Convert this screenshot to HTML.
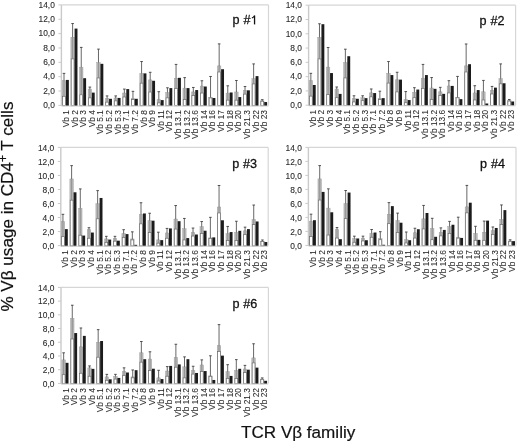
<!DOCTYPE html>
<html><head><meta charset="utf-8"><style>
html,body{margin:0;padding:0;background:#fff;}
body{width:520px;height:442px;overflow:hidden;}
svg{display:block;will-change:transform;}
text{font-family:"Liberation Sans",sans-serif;fill:#2a2a2a;}
.t{font-size:8.4px;stroke:#2a2a2a;stroke-width:0.1px;}
.c{font-size:8.4px;stroke:#2a2a2a;stroke-width:0.05px;}
.p{font-size:12.6px;letter-spacing:0px;word-spacing:0.4px;fill:#111;stroke:#111;stroke-width:0.28px;}
.ax{font-size:17.1px;fill:#111;stroke:#111;stroke-width:0.2px;}
</style></head><body>
<svg width="520" height="442" viewBox="0 0 520 442">
<rect width="520" height="442" fill="#fff"/>
<g><line x1="61.4" y1="4.9" x2="268.5" y2="4.9" stroke="#d6d6d6" stroke-width="1.2"/><line x1="268.5" y1="4.9" x2="268.5" y2="105.4" stroke="#d6d6d6" stroke-width="1.2"/><line x1="61.4" y1="4.9" x2="61.4" y2="106" stroke="#cacaca" stroke-width="1.4"/><line x1="58.4" y1="105.4" x2="61.4" y2="105.4" stroke="#cacaca" stroke-width="1"/><text x="54.8" y="108.2" text-anchor="end" class="t">0,0</text><line x1="58.4" y1="91.04" x2="61.4" y2="91.04" stroke="#cacaca" stroke-width="1"/><text x="54.8" y="93.84" text-anchor="end" class="t">2,0</text><line x1="58.4" y1="76.69" x2="61.4" y2="76.69" stroke="#cacaca" stroke-width="1"/><text x="54.8" y="79.49" text-anchor="end" class="t">4,0</text><line x1="58.4" y1="62.33" x2="61.4" y2="62.33" stroke="#cacaca" stroke-width="1"/><text x="54.8" y="65.13" text-anchor="end" class="t">6,0</text><line x1="58.4" y1="47.97" x2="61.4" y2="47.97" stroke="#cacaca" stroke-width="1"/><text x="54.8" y="50.77" text-anchor="end" class="t">8,0</text><line x1="58.4" y1="33.61" x2="61.4" y2="33.61" stroke="#cacaca" stroke-width="1"/><text x="54.8" y="36.41" text-anchor="end" class="t">10,0</text><line x1="58.4" y1="19.26" x2="61.4" y2="19.26" stroke="#cacaca" stroke-width="1"/><text x="54.8" y="22.06" text-anchor="end" class="t">12,0</text><line x1="58.4" y1="4.9" x2="61.4" y2="4.9" stroke="#cacaca" stroke-width="1"/><text x="54.8" y="7.7" text-anchor="end" class="t">14,0</text><rect x="62.25" y="80.78" width="3.5" height="25.22" fill="#b8b8b8" stroke="#9a9a9a" stroke-width="0.4"/><line x1="64" y1="80.78" x2="64" y2="95.92" stroke="#8a8a8a" stroke-width="0.8"/><line x1="64" y1="73.38" x2="64" y2="80.78" stroke="#404040" stroke-width="0.8"/><line x1="62.7" y1="73.38" x2="65.3" y2="73.38" stroke="#404040" stroke-width="0.9"/><rect x="62.6" y="96.27" width="2.8" height="9.38" fill="#fff" stroke="#6a6a6a" stroke-width="0.7"/><rect x="65.95" y="79.92" width="2.9" height="26.08" fill="#1c1c1c"/><text transform="translate(68.95,110) rotate(-90)" text-anchor="end" class="c">Vb 1</text><rect x="70.87" y="37.2" width="3.5" height="68.8" fill="#b8b8b8" stroke="#9a9a9a" stroke-width="0.4"/><line x1="72.62" y1="37.2" x2="72.62" y2="58.52" stroke="#8a8a8a" stroke-width="0.8"/><line x1="72.62" y1="23.56" x2="72.62" y2="37.2" stroke="#404040" stroke-width="0.8"/><line x1="71.32" y1="23.56" x2="73.92" y2="23.56" stroke="#404040" stroke-width="0.9"/><rect x="71.22" y="58.87" width="2.8" height="46.78" fill="#fff" stroke="#6a6a6a" stroke-width="0.7"/><rect x="74.57" y="28.59" width="2.9" height="77.41" fill="#1c1c1c"/><text transform="translate(77.57,110) rotate(-90)" text-anchor="end" class="c">Vb 2</text><rect x="79.49" y="67.14" width="3.5" height="38.86" fill="#b8b8b8" stroke="#9a9a9a" stroke-width="0.4"/><line x1="81.24" y1="67.14" x2="81.24" y2="94.42" stroke="#8a8a8a" stroke-width="0.8"/><line x1="81.24" y1="47.4" x2="81.24" y2="67.14" stroke="#404040" stroke-width="0.8"/><line x1="79.94" y1="47.4" x2="82.54" y2="47.4" stroke="#404040" stroke-width="0.9"/><rect x="79.84" y="94.77" width="2.8" height="10.88" fill="#fff" stroke="#6a6a6a" stroke-width="0.7"/><rect x="83.19" y="78.19" width="2.9" height="27.81" fill="#1c1c1c"/><text transform="translate(86.19,110) rotate(-90)" text-anchor="end" class="c">Vb 3</text><rect x="88.11" y="89.1" width="3.5" height="16.9" fill="#b8b8b8" stroke="#9a9a9a" stroke-width="0.4"/><line x1="89.86" y1="89.1" x2="89.86" y2="97.5" stroke="#8a8a8a" stroke-width="0.8"/><line x1="89.86" y1="87.09" x2="89.86" y2="89.1" stroke="#404040" stroke-width="0.8"/><line x1="88.56" y1="87.09" x2="91.16" y2="87.09" stroke="#404040" stroke-width="0.9"/><rect x="88.46" y="97.85" width="2.8" height="7.8" fill="#fff" stroke="#6a6a6a" stroke-width="0.7"/><rect x="91.81" y="92.62" width="2.9" height="13.38" fill="#1c1c1c"/><text transform="translate(94.81,110) rotate(-90)" text-anchor="end" class="c">Vb 4</text><rect x="96.73" y="62.54" width="3.5" height="43.46" fill="#b8b8b8" stroke="#9a9a9a" stroke-width="0.4"/><line x1="98.48" y1="62.54" x2="98.48" y2="77.62" stroke="#8a8a8a" stroke-width="0.8"/><line x1="98.48" y1="49.12" x2="98.48" y2="62.54" stroke="#404040" stroke-width="0.8"/><line x1="97.18" y1="49.12" x2="99.78" y2="49.12" stroke="#404040" stroke-width="0.9"/><rect x="97.08" y="77.97" width="2.8" height="27.68" fill="#fff" stroke="#6a6a6a" stroke-width="0.7"/><rect x="100.43" y="63.84" width="2.9" height="42.16" fill="#1c1c1c"/><text transform="translate(103.43,110) rotate(-90)" text-anchor="end" class="c">Vb 5.1</text><rect x="105.35" y="98.58" width="3.5" height="7.42" fill="#b8b8b8" stroke="#9a9a9a" stroke-width="0.4"/><line x1="107.1" y1="98.58" x2="107.1" y2="101.81" stroke="#8a8a8a" stroke-width="0.8"/><line x1="107.1" y1="95.92" x2="107.1" y2="98.58" stroke="#404040" stroke-width="0.8"/><line x1="105.8" y1="95.92" x2="108.4" y2="95.92" stroke="#404040" stroke-width="0.9"/><rect x="105.7" y="102.16" width="2.8" height="3.49" fill="#fff" stroke="#6a6a6a" stroke-width="0.7"/><rect x="109.05" y="98.8" width="2.9" height="7.2" fill="#1c1c1c"/><text transform="translate(112.05,110) rotate(-90)" text-anchor="end" class="c">Vb 5.2</text><rect x="113.97" y="97.93" width="3.5" height="8.07" fill="#b8b8b8" stroke="#9a9a9a" stroke-width="0.4"/><line x1="115.72" y1="97.93" x2="115.72" y2="100.52" stroke="#8a8a8a" stroke-width="0.8"/><line x1="115.72" y1="95.92" x2="115.72" y2="97.93" stroke="#404040" stroke-width="0.8"/><line x1="114.42" y1="95.92" x2="117.02" y2="95.92" stroke="#404040" stroke-width="0.9"/><rect x="114.32" y="100.87" width="2.8" height="4.78" fill="#fff" stroke="#6a6a6a" stroke-width="0.7"/><rect x="117.67" y="97.93" width="2.9" height="8.07" fill="#1c1c1c"/><text transform="translate(120.67,110) rotate(-90)" text-anchor="end" class="c">Vb 5.3</text><rect x="122.59" y="93.05" width="3.5" height="12.95" fill="#b8b8b8" stroke="#9a9a9a" stroke-width="0.4"/><line x1="124.34" y1="93.05" x2="124.34" y2="96.64" stroke="#8a8a8a" stroke-width="0.8"/><line x1="124.34" y1="89.1" x2="124.34" y2="93.05" stroke="#404040" stroke-width="0.8"/><line x1="123.04" y1="89.1" x2="125.64" y2="89.1" stroke="#404040" stroke-width="0.9"/><rect x="122.94" y="96.99" width="2.8" height="8.66" fill="#fff" stroke="#6a6a6a" stroke-width="0.7"/><rect x="126.29" y="89.1" width="2.9" height="16.9" fill="#1c1c1c"/><text transform="translate(129.29,110) rotate(-90)" text-anchor="end" class="c">Vb 7.1</text><rect x="131.21" y="98.58" width="3.5" height="7.42" fill="#b8b8b8" stroke="#9a9a9a" stroke-width="0.4"/><line x1="132.96" y1="98.58" x2="132.96" y2="99.23" stroke="#8a8a8a" stroke-width="0.8"/><line x1="132.96" y1="91.33" x2="132.96" y2="98.58" stroke="#404040" stroke-width="0.8"/><line x1="131.66" y1="91.33" x2="134.26" y2="91.33" stroke="#404040" stroke-width="0.9"/><rect x="131.56" y="99.58" width="2.8" height="6.07" fill="#fff" stroke="#6a6a6a" stroke-width="0.7"/><rect x="134.91" y="98.8" width="2.9" height="7.2" fill="#1c1c1c"/><text transform="translate(137.91,110) rotate(-90)" text-anchor="end" class="c">Vb 7.2</text><rect x="139.83" y="73.38" width="3.5" height="32.62" fill="#b8b8b8" stroke="#9a9a9a" stroke-width="0.4"/><line x1="141.58" y1="73.38" x2="141.58" y2="82.79" stroke="#8a8a8a" stroke-width="0.8"/><line x1="141.58" y1="61.54" x2="141.58" y2="73.38" stroke="#404040" stroke-width="0.8"/><line x1="140.28" y1="61.54" x2="142.88" y2="61.54" stroke="#404040" stroke-width="0.9"/><rect x="140.18" y="83.14" width="2.8" height="22.51" fill="#fff" stroke="#6a6a6a" stroke-width="0.7"/><rect x="143.53" y="73.38" width="2.9" height="32.62" fill="#1c1c1c"/><text transform="translate(146.53,110) rotate(-90)" text-anchor="end" class="c">Vb 8</text><rect x="148.45" y="79.92" width="3.5" height="26.08" fill="#b8b8b8" stroke="#9a9a9a" stroke-width="0.4"/><line x1="150.2" y1="79.92" x2="150.2" y2="91.69" stroke="#8a8a8a" stroke-width="0.8"/><line x1="150.2" y1="72.31" x2="150.2" y2="79.92" stroke="#404040" stroke-width="0.8"/><line x1="148.9" y1="72.31" x2="151.5" y2="72.31" stroke="#404040" stroke-width="0.9"/><rect x="148.8" y="92.04" width="2.8" height="13.61" fill="#fff" stroke="#6a6a6a" stroke-width="0.7"/><rect x="152.15" y="80.78" width="2.9" height="25.22" fill="#1c1c1c"/><text transform="translate(155.15,110) rotate(-90)" text-anchor="end" class="c">Vb 9</text><rect x="157.07" y="99.59" width="3.5" height="6.41" fill="#b8b8b8" stroke="#9a9a9a" stroke-width="0.4"/><line x1="158.82" y1="99.59" x2="158.82" y2="102.53" stroke="#8a8a8a" stroke-width="0.8"/><line x1="158.82" y1="91.69" x2="158.82" y2="99.59" stroke="#404040" stroke-width="0.8"/><line x1="157.52" y1="91.69" x2="160.12" y2="91.69" stroke="#404040" stroke-width="0.9"/><rect x="157.42" y="102.88" width="2.8" height="2.77" fill="#fff" stroke="#6a6a6a" stroke-width="0.7"/><rect x="160.77" y="100.09" width="2.9" height="5.91" fill="#1c1c1c"/><text transform="translate(163.77,110) rotate(-90)" text-anchor="end" class="c">Vb 11</text><rect x="165.69" y="92.48" width="3.5" height="13.52" fill="#b8b8b8" stroke="#9a9a9a" stroke-width="0.4"/><line x1="167.44" y1="92.48" x2="167.44" y2="97.5" stroke="#8a8a8a" stroke-width="0.8"/><line x1="167.44" y1="87.81" x2="167.44" y2="92.48" stroke="#404040" stroke-width="0.8"/><line x1="166.14" y1="87.81" x2="168.74" y2="87.81" stroke="#404040" stroke-width="0.9"/><rect x="166.04" y="97.85" width="2.8" height="7.8" fill="#fff" stroke="#6a6a6a" stroke-width="0.7"/><rect x="169.39" y="88.1" width="2.9" height="17.9" fill="#1c1c1c"/><text transform="translate(172.39,110) rotate(-90)" text-anchor="end" class="c">Vb 12</text><rect x="174.31" y="78.19" width="3.5" height="27.81" fill="#b8b8b8" stroke="#9a9a9a" stroke-width="0.4"/><line x1="176.06" y1="78.19" x2="176.06" y2="88.1" stroke="#8a8a8a" stroke-width="0.8"/><line x1="176.06" y1="64.41" x2="176.06" y2="78.19" stroke="#404040" stroke-width="0.8"/><line x1="174.76" y1="64.41" x2="177.36" y2="64.41" stroke="#404040" stroke-width="0.9"/><rect x="174.66" y="88.45" width="2.8" height="17.2" fill="#fff" stroke="#6a6a6a" stroke-width="0.7"/><rect x="178.01" y="77.83" width="2.9" height="28.17" fill="#1c1c1c"/><text transform="translate(181.01,110) rotate(-90)" text-anchor="end" class="c">Vb 13.1</text><rect x="182.93" y="88.1" width="3.5" height="17.9" fill="#b8b8b8" stroke="#9a9a9a" stroke-width="0.4"/><line x1="184.68" y1="88.1" x2="184.68" y2="99.23" stroke="#8a8a8a" stroke-width="0.8"/><line x1="184.68" y1="77.62" x2="184.68" y2="88.1" stroke="#404040" stroke-width="0.8"/><line x1="183.38" y1="77.62" x2="185.98" y2="77.62" stroke="#404040" stroke-width="0.9"/><rect x="183.28" y="99.58" width="2.8" height="6.07" fill="#fff" stroke="#6a6a6a" stroke-width="0.7"/><rect x="186.63" y="88.1" width="2.9" height="17.9" fill="#1c1c1c"/><text transform="translate(189.63,110) rotate(-90)" text-anchor="end" class="c">Vb 13.2</text><rect x="191.55" y="91.98" width="3.5" height="14.02" fill="#b8b8b8" stroke="#9a9a9a" stroke-width="0.4"/><line x1="193.3" y1="91.98" x2="193.3" y2="95.28" stroke="#8a8a8a" stroke-width="0.8"/><line x1="193.3" y1="87.45" x2="193.3" y2="91.98" stroke="#404040" stroke-width="0.8"/><line x1="192" y1="87.45" x2="194.6" y2="87.45" stroke="#404040" stroke-width="0.9"/><rect x="191.9" y="95.63" width="2.8" height="10.02" fill="#fff" stroke="#6a6a6a" stroke-width="0.7"/><rect x="195.25" y="90.04" width="2.9" height="15.96" fill="#1c1c1c"/><text transform="translate(198.25,110) rotate(-90)" text-anchor="end" class="c">Vb 13.6</text><rect x="200.17" y="86.09" width="3.5" height="19.91" fill="#b8b8b8" stroke="#9a9a9a" stroke-width="0.4"/><line x1="201.92" y1="86.09" x2="201.92" y2="92.69" stroke="#8a8a8a" stroke-width="0.8"/><line x1="201.92" y1="80.78" x2="201.92" y2="86.09" stroke="#404040" stroke-width="0.8"/><line x1="200.62" y1="80.78" x2="203.22" y2="80.78" stroke="#404040" stroke-width="0.9"/><rect x="200.52" y="93.04" width="2.8" height="12.61" fill="#fff" stroke="#6a6a6a" stroke-width="0.7"/><rect x="203.87" y="86.52" width="2.9" height="19.48" fill="#1c1c1c"/><text transform="translate(206.87,110) rotate(-90)" text-anchor="end" class="c">Vb 14</text><rect x="208.79" y="97.58" width="3.5" height="8.42" fill="#b8b8b8" stroke="#9a9a9a" stroke-width="0.4"/><line x1="210.54" y1="97.58" x2="210.54" y2="97.58" stroke="#8a8a8a" stroke-width="0.8"/><line x1="210.54" y1="76.47" x2="210.54" y2="97.58" stroke="#404040" stroke-width="0.8"/><line x1="209.24" y1="76.47" x2="211.84" y2="76.47" stroke="#404040" stroke-width="0.9"/><rect x="209.14" y="97.93" width="2.8" height="7.72" fill="#fff" stroke="#6a6a6a" stroke-width="0.7"/><rect x="212.49" y="98.01" width="2.9" height="7.99" fill="#1c1c1c"/><text transform="translate(215.49,110) rotate(-90)" text-anchor="end" class="c">Vb 16</text><rect x="217.41" y="65.92" width="3.5" height="40.08" fill="#b8b8b8" stroke="#9a9a9a" stroke-width="0.4"/><line x1="219.16" y1="65.92" x2="219.16" y2="71.66" stroke="#8a8a8a" stroke-width="0.8"/><line x1="219.16" y1="43.88" x2="219.16" y2="65.92" stroke="#404040" stroke-width="0.8"/><line x1="217.86" y1="43.88" x2="220.46" y2="43.88" stroke="#404040" stroke-width="0.9"/><rect x="217.76" y="72.01" width="2.8" height="33.64" fill="#fff" stroke="#6a6a6a" stroke-width="0.7"/><rect x="221.11" y="69.22" width="2.9" height="36.78" fill="#1c1c1c"/><text transform="translate(224.11,110) rotate(-90)" text-anchor="end" class="c">Vb 17</text><rect x="226.03" y="93.12" width="3.5" height="12.88" fill="#b8b8b8" stroke="#9a9a9a" stroke-width="0.4"/><line x1="227.78" y1="93.12" x2="227.78" y2="99.8" stroke="#8a8a8a" stroke-width="0.8"/><line x1="227.78" y1="85.8" x2="227.78" y2="93.12" stroke="#404040" stroke-width="0.8"/><line x1="226.48" y1="85.8" x2="229.08" y2="85.8" stroke="#404040" stroke-width="0.9"/><rect x="226.38" y="100.15" width="2.8" height="5.5" fill="#fff" stroke="#6a6a6a" stroke-width="0.7"/><rect x="229.73" y="92.48" width="2.9" height="13.52" fill="#1c1c1c"/><text transform="translate(232.73,110) rotate(-90)" text-anchor="end" class="c">Vb 18</text><rect x="234.65" y="91.98" width="3.5" height="14.02" fill="#b8b8b8" stroke="#9a9a9a" stroke-width="0.4"/><line x1="236.4" y1="91.98" x2="236.4" y2="99.8" stroke="#8a8a8a" stroke-width="0.8"/><line x1="236.4" y1="80.49" x2="236.4" y2="91.98" stroke="#404040" stroke-width="0.8"/><line x1="235.1" y1="80.49" x2="237.7" y2="80.49" stroke="#404040" stroke-width="0.9"/><rect x="235" y="100.15" width="2.8" height="5.5" fill="#fff" stroke="#6a6a6a" stroke-width="0.7"/><rect x="238.35" y="97.07" width="2.9" height="8.93" fill="#1c1c1c"/><text transform="translate(241.35,110) rotate(-90)" text-anchor="end" class="c">Vb 20</text><rect x="243.27" y="90.33" width="3.5" height="15.68" fill="#b8b8b8" stroke="#9a9a9a" stroke-width="0.4"/><line x1="245.02" y1="90.33" x2="245.02" y2="93.77" stroke="#8a8a8a" stroke-width="0.8"/><line x1="245.02" y1="86.52" x2="245.02" y2="90.33" stroke="#404040" stroke-width="0.8"/><line x1="243.72" y1="86.52" x2="246.32" y2="86.52" stroke="#404040" stroke-width="0.9"/><rect x="243.62" y="94.12" width="2.8" height="11.53" fill="#fff" stroke="#6a6a6a" stroke-width="0.7"/><rect x="246.97" y="90.33" width="2.9" height="15.68" fill="#1c1c1c"/><text transform="translate(249.97,110) rotate(-90)" text-anchor="end" class="c">Vb 21.3</text><rect x="251.89" y="78.7" width="3.5" height="27.3" fill="#b8b8b8" stroke="#9a9a9a" stroke-width="0.4"/><line x1="253.64" y1="78.7" x2="253.64" y2="83.58" stroke="#8a8a8a" stroke-width="0.8"/><line x1="253.64" y1="63.91" x2="253.64" y2="78.7" stroke="#404040" stroke-width="0.8"/><line x1="252.34" y1="63.91" x2="254.94" y2="63.91" stroke="#404040" stroke-width="0.9"/><rect x="252.24" y="83.93" width="2.8" height="21.72" fill="#fff" stroke="#6a6a6a" stroke-width="0.7"/><rect x="255.59" y="76.11" width="2.9" height="29.89" fill="#1c1c1c"/><text transform="translate(258.59,110) rotate(-90)" text-anchor="end" class="c">Vb 22</text><rect x="260.51" y="100.88" width="3.5" height="5.12" fill="#b8b8b8" stroke="#9a9a9a" stroke-width="0.4"/><line x1="262.26" y1="100.88" x2="262.26" y2="100.88" stroke="#8a8a8a" stroke-width="0.8"/><line x1="262.26" y1="99.66" x2="262.26" y2="100.88" stroke="#404040" stroke-width="0.8"/><line x1="260.96" y1="99.66" x2="263.56" y2="99.66" stroke="#404040" stroke-width="0.9"/><rect x="260.86" y="101.23" width="2.8" height="4.42" fill="#fff" stroke="#6a6a6a" stroke-width="0.7"/><rect x="264.21" y="102.03" width="2.9" height="3.97" fill="#1c1c1c"/><text transform="translate(267.21,110) rotate(-90)" text-anchor="end" class="c">Vb 23</text><line x1="61.4" y1="106" x2="268.5" y2="106" stroke="#d0d0d0" stroke-width="1"/><text x="232.5" y="24.4" class="p">p #</text><path d="M253.9 15.5 H255.2 V24.4 H253.9 Z" fill="#111"/><path d="M254.5 15.7 Q253.7 17.3 251.9 18" stroke="#111" stroke-width="1.1" fill="none"/></g><g><line x1="308.6" y1="5.2" x2="515.6" y2="5.2" stroke="#d6d6d6" stroke-width="1.2"/><line x1="515.6" y1="5.2" x2="515.6" y2="105.2" stroke="#d6d6d6" stroke-width="1.2"/><line x1="308.6" y1="5.2" x2="308.6" y2="105.8" stroke="#cacaca" stroke-width="1.4"/><line x1="305.6" y1="105.2" x2="308.6" y2="105.2" stroke="#cacaca" stroke-width="1"/><text x="302" y="108" text-anchor="end" class="t">0,0</text><line x1="305.6" y1="90.91" x2="308.6" y2="90.91" stroke="#cacaca" stroke-width="1"/><text x="302" y="93.71" text-anchor="end" class="t">2,0</text><line x1="305.6" y1="76.63" x2="308.6" y2="76.63" stroke="#cacaca" stroke-width="1"/><text x="302" y="79.43" text-anchor="end" class="t">4,0</text><line x1="305.6" y1="62.34" x2="308.6" y2="62.34" stroke="#cacaca" stroke-width="1"/><text x="302" y="65.14" text-anchor="end" class="t">6,0</text><line x1="305.6" y1="48.06" x2="308.6" y2="48.06" stroke="#cacaca" stroke-width="1"/><text x="302" y="50.86" text-anchor="end" class="t">8,0</text><line x1="305.6" y1="33.77" x2="308.6" y2="33.77" stroke="#cacaca" stroke-width="1"/><text x="302" y="36.57" text-anchor="end" class="t">10,0</text><line x1="305.6" y1="19.49" x2="308.6" y2="19.49" stroke="#cacaca" stroke-width="1"/><text x="302" y="22.29" text-anchor="end" class="t">12,0</text><line x1="305.6" y1="5.2" x2="308.6" y2="5.2" stroke="#cacaca" stroke-width="1"/><text x="302" y="8" text-anchor="end" class="t">14,0</text><rect x="309.1" y="80.7" width="3.5" height="25.1" fill="#b8b8b8" stroke="#9a9a9a" stroke-width="0.4"/><line x1="310.85" y1="80.7" x2="310.85" y2="95.77" stroke="#8a8a8a" stroke-width="0.8"/><line x1="310.85" y1="73.34" x2="310.85" y2="80.7" stroke="#404040" stroke-width="0.8"/><line x1="309.55" y1="73.34" x2="312.15" y2="73.34" stroke="#404040" stroke-width="0.9"/><rect x="309.45" y="96.12" width="2.8" height="9.33" fill="#fff" stroke="#6a6a6a" stroke-width="0.7"/><rect x="312.8" y="84.99" width="2.9" height="20.81" fill="#1c1c1c"/><text transform="translate(315.8,109.8) rotate(-90)" text-anchor="end" class="c">Vb 1</text><rect x="317.73" y="37.34" width="3.5" height="68.46" fill="#b8b8b8" stroke="#9a9a9a" stroke-width="0.4"/><line x1="319.48" y1="37.34" x2="319.48" y2="58.56" stroke="#8a8a8a" stroke-width="0.8"/><line x1="319.48" y1="23.77" x2="319.48" y2="37.34" stroke="#404040" stroke-width="0.8"/><line x1="318.18" y1="23.77" x2="320.78" y2="23.77" stroke="#404040" stroke-width="0.9"/><rect x="318.08" y="58.91" width="2.8" height="46.54" fill="#fff" stroke="#6a6a6a" stroke-width="0.7"/><rect x="321.43" y="24.2" width="2.9" height="81.6" fill="#1c1c1c"/><text transform="translate(324.43,109.8) rotate(-90)" text-anchor="end" class="c">Vb 2</text><rect x="326.36" y="67.13" width="3.5" height="38.67" fill="#b8b8b8" stroke="#9a9a9a" stroke-width="0.4"/><line x1="328.11" y1="67.13" x2="328.11" y2="94.27" stroke="#8a8a8a" stroke-width="0.8"/><line x1="328.11" y1="47.49" x2="328.11" y2="67.13" stroke="#404040" stroke-width="0.8"/><line x1="326.81" y1="47.49" x2="329.41" y2="47.49" stroke="#404040" stroke-width="0.9"/><rect x="326.71" y="94.62" width="2.8" height="10.83" fill="#fff" stroke="#6a6a6a" stroke-width="0.7"/><rect x="330.06" y="73.06" width="2.9" height="32.74" fill="#1c1c1c"/><text transform="translate(333.06,109.8) rotate(-90)" text-anchor="end" class="c">Vb 3</text><rect x="334.98" y="88.99" width="3.5" height="16.81" fill="#b8b8b8" stroke="#9a9a9a" stroke-width="0.4"/><line x1="336.73" y1="88.99" x2="336.73" y2="97.34" stroke="#8a8a8a" stroke-width="0.8"/><line x1="336.73" y1="86.99" x2="336.73" y2="88.99" stroke="#404040" stroke-width="0.8"/><line x1="335.43" y1="86.99" x2="338.03" y2="86.99" stroke="#404040" stroke-width="0.9"/><rect x="335.33" y="97.69" width="2.8" height="7.76" fill="#fff" stroke="#6a6a6a" stroke-width="0.7"/><rect x="338.68" y="93.91" width="2.9" height="11.89" fill="#1c1c1c"/><text transform="translate(341.68,109.8) rotate(-90)" text-anchor="end" class="c">Vb 4</text><rect x="343.61" y="62.56" width="3.5" height="43.24" fill="#b8b8b8" stroke="#9a9a9a" stroke-width="0.4"/><line x1="345.36" y1="62.56" x2="345.36" y2="77.56" stroke="#8a8a8a" stroke-width="0.8"/><line x1="345.36" y1="49.2" x2="345.36" y2="62.56" stroke="#404040" stroke-width="0.8"/><line x1="344.06" y1="49.2" x2="346.66" y2="49.2" stroke="#404040" stroke-width="0.9"/><rect x="343.96" y="77.91" width="2.8" height="27.54" fill="#fff" stroke="#6a6a6a" stroke-width="0.7"/><rect x="347.31" y="56.2" width="2.9" height="49.6" fill="#1c1c1c"/><text transform="translate(350.31,109.8) rotate(-90)" text-anchor="end" class="c">Vb 5.1</text><rect x="352.24" y="98.41" width="3.5" height="7.39" fill="#b8b8b8" stroke="#9a9a9a" stroke-width="0.4"/><line x1="353.99" y1="98.41" x2="353.99" y2="101.63" stroke="#8a8a8a" stroke-width="0.8"/><line x1="353.99" y1="95.77" x2="353.99" y2="98.41" stroke="#404040" stroke-width="0.8"/><line x1="352.69" y1="95.77" x2="355.29" y2="95.77" stroke="#404040" stroke-width="0.9"/><rect x="352.59" y="101.98" width="2.8" height="3.47" fill="#fff" stroke="#6a6a6a" stroke-width="0.7"/><rect x="355.94" y="98.77" width="2.9" height="7.03" fill="#1c1c1c"/><text transform="translate(358.94,109.8) rotate(-90)" text-anchor="end" class="c">Vb 5.2</text><rect x="360.87" y="97.77" width="3.5" height="8.03" fill="#b8b8b8" stroke="#9a9a9a" stroke-width="0.4"/><line x1="362.62" y1="97.77" x2="362.62" y2="100.34" stroke="#8a8a8a" stroke-width="0.8"/><line x1="362.62" y1="95.77" x2="362.62" y2="97.77" stroke="#404040" stroke-width="0.8"/><line x1="361.32" y1="95.77" x2="363.92" y2="95.77" stroke="#404040" stroke-width="0.9"/><rect x="361.22" y="100.69" width="2.8" height="4.76" fill="#fff" stroke="#6a6a6a" stroke-width="0.7"/><rect x="364.57" y="98.13" width="2.9" height="7.67" fill="#1c1c1c"/><text transform="translate(367.57,109.8) rotate(-90)" text-anchor="end" class="c">Vb 5.3</text><rect x="369.5" y="92.91" width="3.5" height="12.89" fill="#b8b8b8" stroke="#9a9a9a" stroke-width="0.4"/><line x1="371.25" y1="92.91" x2="371.25" y2="96.49" stroke="#8a8a8a" stroke-width="0.8"/><line x1="371.25" y1="88.99" x2="371.25" y2="92.91" stroke="#404040" stroke-width="0.8"/><line x1="369.95" y1="88.99" x2="372.55" y2="88.99" stroke="#404040" stroke-width="0.9"/><rect x="369.85" y="96.84" width="2.8" height="8.61" fill="#fff" stroke="#6a6a6a" stroke-width="0.7"/><rect x="373.2" y="93.06" width="2.9" height="12.74" fill="#1c1c1c"/><text transform="translate(376.2,109.8) rotate(-90)" text-anchor="end" class="c">Vb 7.1</text><rect x="378.12" y="98.41" width="3.5" height="7.39" fill="#b8b8b8" stroke="#9a9a9a" stroke-width="0.4"/><line x1="379.87" y1="98.41" x2="379.87" y2="99.06" stroke="#8a8a8a" stroke-width="0.8"/><line x1="379.87" y1="91.2" x2="379.87" y2="98.41" stroke="#404040" stroke-width="0.8"/><line x1="378.57" y1="91.2" x2="381.17" y2="91.2" stroke="#404040" stroke-width="0.9"/><rect x="378.47" y="99.41" width="2.8" height="6.04" fill="#fff" stroke="#6a6a6a" stroke-width="0.7"/><rect x="381.82" y="98.13" width="2.9" height="7.67" fill="#1c1c1c"/><text transform="translate(384.82,109.8) rotate(-90)" text-anchor="end" class="c">Vb 7.2</text><rect x="386.75" y="73.34" width="3.5" height="32.46" fill="#b8b8b8" stroke="#9a9a9a" stroke-width="0.4"/><line x1="388.5" y1="73.34" x2="388.5" y2="82.7" stroke="#8a8a8a" stroke-width="0.8"/><line x1="388.5" y1="61.56" x2="388.5" y2="73.34" stroke="#404040" stroke-width="0.8"/><line x1="387.2" y1="61.56" x2="389.8" y2="61.56" stroke="#404040" stroke-width="0.9"/><rect x="387.1" y="83.05" width="2.8" height="22.4" fill="#fff" stroke="#6a6a6a" stroke-width="0.7"/><rect x="390.45" y="75.06" width="2.9" height="30.74" fill="#1c1c1c"/><text transform="translate(393.45,109.8) rotate(-90)" text-anchor="end" class="c">Vb 8</text><rect x="395.38" y="79.84" width="3.5" height="25.96" fill="#b8b8b8" stroke="#9a9a9a" stroke-width="0.4"/><line x1="397.13" y1="79.84" x2="397.13" y2="91.56" stroke="#8a8a8a" stroke-width="0.8"/><line x1="397.13" y1="72.27" x2="397.13" y2="79.84" stroke="#404040" stroke-width="0.8"/><line x1="395.83" y1="72.27" x2="398.43" y2="72.27" stroke="#404040" stroke-width="0.9"/><rect x="395.73" y="91.91" width="2.8" height="13.54" fill="#fff" stroke="#6a6a6a" stroke-width="0.7"/><rect x="399.08" y="79.63" width="2.9" height="26.17" fill="#1c1c1c"/><text transform="translate(402.08,109.8) rotate(-90)" text-anchor="end" class="c">Vb 9</text><rect x="404.01" y="99.41" width="3.5" height="6.39" fill="#b8b8b8" stroke="#9a9a9a" stroke-width="0.4"/><line x1="405.76" y1="99.41" x2="405.76" y2="102.34" stroke="#8a8a8a" stroke-width="0.8"/><line x1="405.76" y1="91.56" x2="405.76" y2="99.41" stroke="#404040" stroke-width="0.8"/><line x1="404.46" y1="91.56" x2="407.06" y2="91.56" stroke="#404040" stroke-width="0.9"/><rect x="404.36" y="102.69" width="2.8" height="2.76" fill="#fff" stroke="#6a6a6a" stroke-width="0.7"/><rect x="407.71" y="100.06" width="2.9" height="5.74" fill="#1c1c1c"/><text transform="translate(410.71,109.8) rotate(-90)" text-anchor="end" class="c">Vb 11</text><rect x="412.64" y="92.34" width="3.5" height="13.46" fill="#b8b8b8" stroke="#9a9a9a" stroke-width="0.4"/><line x1="414.39" y1="92.34" x2="414.39" y2="97.34" stroke="#8a8a8a" stroke-width="0.8"/><line x1="414.39" y1="87.7" x2="414.39" y2="92.34" stroke="#404040" stroke-width="0.8"/><line x1="413.09" y1="87.7" x2="415.69" y2="87.7" stroke="#404040" stroke-width="0.9"/><rect x="412.99" y="97.69" width="2.8" height="7.76" fill="#fff" stroke="#6a6a6a" stroke-width="0.7"/><rect x="416.34" y="89.56" width="2.9" height="16.24" fill="#1c1c1c"/><text transform="translate(419.34,109.8) rotate(-90)" text-anchor="end" class="c">Vb 12</text><rect x="421.26" y="78.13" width="3.5" height="27.67" fill="#b8b8b8" stroke="#9a9a9a" stroke-width="0.4"/><line x1="423.01" y1="78.13" x2="423.01" y2="87.99" stroke="#8a8a8a" stroke-width="0.8"/><line x1="423.01" y1="64.41" x2="423.01" y2="78.13" stroke="#404040" stroke-width="0.8"/><line x1="421.71" y1="64.41" x2="424.31" y2="64.41" stroke="#404040" stroke-width="0.9"/><rect x="421.61" y="88.34" width="2.8" height="17.11" fill="#fff" stroke="#6a6a6a" stroke-width="0.7"/><rect x="424.96" y="75.06" width="2.9" height="30.74" fill="#1c1c1c"/><text transform="translate(427.96,109.8) rotate(-90)" text-anchor="end" class="c">Vb 13.1</text><rect x="429.89" y="87.99" width="3.5" height="17.81" fill="#b8b8b8" stroke="#9a9a9a" stroke-width="0.4"/><line x1="431.64" y1="87.99" x2="431.64" y2="99.06" stroke="#8a8a8a" stroke-width="0.8"/><line x1="431.64" y1="77.56" x2="431.64" y2="87.99" stroke="#404040" stroke-width="0.8"/><line x1="430.34" y1="77.56" x2="432.94" y2="77.56" stroke="#404040" stroke-width="0.9"/><rect x="430.24" y="99.41" width="2.8" height="6.04" fill="#fff" stroke="#6a6a6a" stroke-width="0.7"/><rect x="433.59" y="88.84" width="2.9" height="16.96" fill="#1c1c1c"/><text transform="translate(436.59,109.8) rotate(-90)" text-anchor="end" class="c">Vb 13.2</text><rect x="438.52" y="91.84" width="3.5" height="13.96" fill="#b8b8b8" stroke="#9a9a9a" stroke-width="0.4"/><line x1="440.27" y1="91.84" x2="440.27" y2="95.13" stroke="#8a8a8a" stroke-width="0.8"/><line x1="440.27" y1="87.34" x2="440.27" y2="91.84" stroke="#404040" stroke-width="0.8"/><line x1="438.97" y1="87.34" x2="441.57" y2="87.34" stroke="#404040" stroke-width="0.9"/><rect x="438.87" y="95.48" width="2.8" height="9.97" fill="#fff" stroke="#6a6a6a" stroke-width="0.7"/><rect x="442.22" y="93.84" width="2.9" height="11.96" fill="#1c1c1c"/><text transform="translate(445.22,109.8) rotate(-90)" text-anchor="end" class="c">Vb 13.6</text><rect x="447.15" y="85.99" width="3.5" height="19.81" fill="#b8b8b8" stroke="#9a9a9a" stroke-width="0.4"/><line x1="448.9" y1="85.99" x2="448.9" y2="92.56" stroke="#8a8a8a" stroke-width="0.8"/><line x1="448.9" y1="80.7" x2="448.9" y2="85.99" stroke="#404040" stroke-width="0.8"/><line x1="447.6" y1="80.7" x2="450.2" y2="80.7" stroke="#404040" stroke-width="0.9"/><rect x="447.5" y="92.91" width="2.8" height="12.54" fill="#fff" stroke="#6a6a6a" stroke-width="0.7"/><rect x="450.85" y="85.91" width="2.9" height="19.89" fill="#1c1c1c"/><text transform="translate(453.85,109.8) rotate(-90)" text-anchor="end" class="c">Vb 14</text><rect x="455.78" y="97.41" width="3.5" height="8.39" fill="#b8b8b8" stroke="#9a9a9a" stroke-width="0.4"/><line x1="457.53" y1="97.41" x2="457.53" y2="97.41" stroke="#8a8a8a" stroke-width="0.8"/><line x1="457.53" y1="76.41" x2="457.53" y2="97.41" stroke="#404040" stroke-width="0.8"/><line x1="456.23" y1="76.41" x2="458.83" y2="76.41" stroke="#404040" stroke-width="0.9"/><rect x="456.13" y="97.76" width="2.8" height="7.69" fill="#fff" stroke="#6a6a6a" stroke-width="0.7"/><rect x="459.48" y="99.13" width="2.9" height="6.67" fill="#1c1c1c"/><text transform="translate(462.48,109.8) rotate(-90)" text-anchor="end" class="c">Vb 16</text><rect x="464.4" y="65.91" width="3.5" height="39.89" fill="#b8b8b8" stroke="#9a9a9a" stroke-width="0.4"/><line x1="466.15" y1="65.91" x2="466.15" y2="71.63" stroke="#8a8a8a" stroke-width="0.8"/><line x1="466.15" y1="43.99" x2="466.15" y2="65.91" stroke="#404040" stroke-width="0.8"/><line x1="464.85" y1="43.99" x2="467.45" y2="43.99" stroke="#404040" stroke-width="0.9"/><rect x="464.75" y="71.98" width="2.8" height="33.47" fill="#fff" stroke="#6a6a6a" stroke-width="0.7"/><rect x="468.1" y="64.2" width="2.9" height="41.6" fill="#1c1c1c"/><text transform="translate(471.1,109.8) rotate(-90)" text-anchor="end" class="c">Vb 17</text><rect x="473.03" y="92.99" width="3.5" height="12.81" fill="#b8b8b8" stroke="#9a9a9a" stroke-width="0.4"/><line x1="474.78" y1="92.99" x2="474.78" y2="99.63" stroke="#8a8a8a" stroke-width="0.8"/><line x1="474.78" y1="85.7" x2="474.78" y2="92.99" stroke="#404040" stroke-width="0.8"/><line x1="473.48" y1="85.7" x2="476.08" y2="85.7" stroke="#404040" stroke-width="0.9"/><rect x="473.38" y="99.98" width="2.8" height="5.47" fill="#fff" stroke="#6a6a6a" stroke-width="0.7"/><rect x="476.73" y="90.06" width="2.9" height="15.74" fill="#1c1c1c"/><text transform="translate(479.73,109.8) rotate(-90)" text-anchor="end" class="c">Vb 18</text><rect x="481.66" y="91.84" width="3.5" height="13.96" fill="#b8b8b8" stroke="#9a9a9a" stroke-width="0.4"/><line x1="483.41" y1="91.84" x2="483.41" y2="99.63" stroke="#8a8a8a" stroke-width="0.8"/><line x1="483.41" y1="80.41" x2="483.41" y2="91.84" stroke="#404040" stroke-width="0.8"/><line x1="482.11" y1="80.41" x2="484.71" y2="80.41" stroke="#404040" stroke-width="0.9"/><rect x="482.01" y="99.98" width="2.8" height="5.47" fill="#fff" stroke="#6a6a6a" stroke-width="0.7"/><rect x="485.36" y="103.49" width="2.9" height="2.31" fill="#1c1c1c"/><text transform="translate(488.36,109.8) rotate(-90)" text-anchor="end" class="c">Vb 20</text><rect x="490.29" y="90.2" width="3.5" height="15.6" fill="#b8b8b8" stroke="#9a9a9a" stroke-width="0.4"/><line x1="492.04" y1="90.2" x2="492.04" y2="93.63" stroke="#8a8a8a" stroke-width="0.8"/><line x1="492.04" y1="86.41" x2="492.04" y2="90.2" stroke="#404040" stroke-width="0.8"/><line x1="490.74" y1="86.41" x2="493.34" y2="86.41" stroke="#404040" stroke-width="0.9"/><rect x="490.64" y="93.98" width="2.8" height="11.47" fill="#fff" stroke="#6a6a6a" stroke-width="0.7"/><rect x="493.99" y="87.63" width="2.9" height="18.17" fill="#1c1c1c"/><text transform="translate(496.99,109.8) rotate(-90)" text-anchor="end" class="c">Vb 21.3</text><rect x="498.92" y="78.63" width="3.5" height="27.17" fill="#b8b8b8" stroke="#9a9a9a" stroke-width="0.4"/><line x1="500.67" y1="78.63" x2="500.67" y2="83.49" stroke="#8a8a8a" stroke-width="0.8"/><line x1="500.67" y1="63.91" x2="500.67" y2="78.63" stroke="#404040" stroke-width="0.8"/><line x1="499.37" y1="63.91" x2="501.97" y2="63.91" stroke="#404040" stroke-width="0.9"/><rect x="499.27" y="83.84" width="2.8" height="21.61" fill="#fff" stroke="#6a6a6a" stroke-width="0.7"/><rect x="502.62" y="83.27" width="2.9" height="22.53" fill="#1c1c1c"/><text transform="translate(505.62,109.8) rotate(-90)" text-anchor="end" class="c">Vb 22</text><rect x="507.54" y="100.7" width="3.5" height="5.1" fill="#b8b8b8" stroke="#9a9a9a" stroke-width="0.4"/><line x1="509.29" y1="100.7" x2="509.29" y2="100.7" stroke="#8a8a8a" stroke-width="0.8"/><line x1="509.29" y1="99.49" x2="509.29" y2="100.7" stroke="#404040" stroke-width="0.8"/><line x1="507.99" y1="99.49" x2="510.59" y2="99.49" stroke="#404040" stroke-width="0.9"/><rect x="507.89" y="101.05" width="2.8" height="4.4" fill="#fff" stroke="#6a6a6a" stroke-width="0.7"/><rect x="511.24" y="101.49" width="2.9" height="4.31" fill="#1c1c1c"/><text transform="translate(514.24,109.8) rotate(-90)" text-anchor="end" class="c">Vb 23</text><line x1="308.6" y1="105.8" x2="515.6" y2="105.8" stroke="#d0d0d0" stroke-width="1"/><text x="479.6" y="24.6" class="p">p #2</text></g><g><line x1="60.8" y1="147.4" x2="268.2" y2="147.4" stroke="#d6d6d6" stroke-width="1.2"/><line x1="268.2" y1="147.4" x2="268.2" y2="245.6" stroke="#d6d6d6" stroke-width="1.2"/><line x1="60.8" y1="147.4" x2="60.8" y2="246.2" stroke="#cacaca" stroke-width="1.4"/><line x1="57.8" y1="245.6" x2="60.8" y2="245.6" stroke="#cacaca" stroke-width="1"/><text x="54.2" y="248.9" text-anchor="end" class="t">0,0</text><line x1="57.8" y1="231.57" x2="60.8" y2="231.57" stroke="#cacaca" stroke-width="1"/><text x="54.2" y="234.87" text-anchor="end" class="t">2,0</text><line x1="57.8" y1="217.54" x2="60.8" y2="217.54" stroke="#cacaca" stroke-width="1"/><text x="54.2" y="220.84" text-anchor="end" class="t">4,0</text><line x1="57.8" y1="203.51" x2="60.8" y2="203.51" stroke="#cacaca" stroke-width="1"/><text x="54.2" y="206.81" text-anchor="end" class="t">6,0</text><line x1="57.8" y1="189.49" x2="60.8" y2="189.49" stroke="#cacaca" stroke-width="1"/><text x="54.2" y="192.79" text-anchor="end" class="t">8,0</text><line x1="57.8" y1="175.46" x2="60.8" y2="175.46" stroke="#cacaca" stroke-width="1"/><text x="54.2" y="178.76" text-anchor="end" class="t">10,0</text><line x1="57.8" y1="161.43" x2="60.8" y2="161.43" stroke="#cacaca" stroke-width="1"/><text x="54.2" y="164.73" text-anchor="end" class="t">12,0</text><line x1="57.8" y1="147.4" x2="60.8" y2="147.4" stroke="#cacaca" stroke-width="1"/><text x="54.2" y="150.7" text-anchor="end" class="t">14,0</text><rect x="61.2" y="221.54" width="3.5" height="24.66" fill="#b8b8b8" stroke="#9a9a9a" stroke-width="0.4"/><line x1="62.95" y1="221.54" x2="62.95" y2="236.34" stroke="#8a8a8a" stroke-width="0.8"/><line x1="62.95" y1="214.32" x2="62.95" y2="221.54" stroke="#404040" stroke-width="0.8"/><line x1="61.65" y1="214.32" x2="64.25" y2="214.32" stroke="#404040" stroke-width="0.9"/><rect x="61.55" y="236.69" width="2.8" height="9.16" fill="#fff" stroke="#6a6a6a" stroke-width="0.7"/><rect x="64.9" y="229.12" width="2.9" height="17.08" fill="#1c1c1c"/><text transform="translate(67.9,250.2) rotate(-90)" text-anchor="end" class="c">Vb 1</text><rect x="69.87" y="178.96" width="3.5" height="67.24" fill="#b8b8b8" stroke="#9a9a9a" stroke-width="0.4"/><line x1="71.62" y1="178.96" x2="71.62" y2="199.8" stroke="#8a8a8a" stroke-width="0.8"/><line x1="71.62" y1="165.64" x2="71.62" y2="178.96" stroke="#404040" stroke-width="0.8"/><line x1="70.32" y1="165.64" x2="72.92" y2="165.64" stroke="#404040" stroke-width="0.9"/><rect x="70.22" y="200.15" width="2.8" height="45.7" fill="#fff" stroke="#6a6a6a" stroke-width="0.7"/><rect x="73.57" y="192.29" width="2.9" height="53.91" fill="#1c1c1c"/><text transform="translate(76.57,250.2) rotate(-90)" text-anchor="end" class="c">Vb 2</text><rect x="78.54" y="208.21" width="3.5" height="37.99" fill="#b8b8b8" stroke="#9a9a9a" stroke-width="0.4"/><line x1="80.29" y1="208.21" x2="80.29" y2="234.87" stroke="#8a8a8a" stroke-width="0.8"/><line x1="80.29" y1="188.92" x2="80.29" y2="208.21" stroke="#404040" stroke-width="0.8"/><line x1="78.99" y1="188.92" x2="81.59" y2="188.92" stroke="#404040" stroke-width="0.9"/><rect x="78.89" y="235.22" width="2.8" height="10.63" fill="#fff" stroke="#6a6a6a" stroke-width="0.7"/><rect x="82.24" y="235.57" width="2.9" height="10.63" fill="#1c1c1c"/><text transform="translate(85.24,250.2) rotate(-90)" text-anchor="end" class="c">Vb 3</text><rect x="87.22" y="229.68" width="3.5" height="16.52" fill="#b8b8b8" stroke="#9a9a9a" stroke-width="0.4"/><line x1="88.97" y1="229.68" x2="88.97" y2="237.88" stroke="#8a8a8a" stroke-width="0.8"/><line x1="88.97" y1="227.71" x2="88.97" y2="229.68" stroke="#404040" stroke-width="0.8"/><line x1="87.67" y1="227.71" x2="90.27" y2="227.71" stroke="#404040" stroke-width="0.9"/><rect x="87.57" y="238.23" width="2.8" height="7.62" fill="#fff" stroke="#6a6a6a" stroke-width="0.7"/><rect x="90.92" y="232.55" width="2.9" height="13.65" fill="#1c1c1c"/><text transform="translate(93.92,250.2) rotate(-90)" text-anchor="end" class="c">Vb 4</text><rect x="95.89" y="203.72" width="3.5" height="42.48" fill="#b8b8b8" stroke="#9a9a9a" stroke-width="0.4"/><line x1="97.64" y1="203.72" x2="97.64" y2="218.45" stroke="#8a8a8a" stroke-width="0.8"/><line x1="97.64" y1="190.61" x2="97.64" y2="203.72" stroke="#404040" stroke-width="0.8"/><line x1="96.34" y1="190.61" x2="98.94" y2="190.61" stroke="#404040" stroke-width="0.9"/><rect x="96.24" y="218.8" width="2.8" height="27.05" fill="#fff" stroke="#6a6a6a" stroke-width="0.7"/><rect x="99.59" y="197.97" width="2.9" height="48.23" fill="#1c1c1c"/><text transform="translate(102.59,250.2) rotate(-90)" text-anchor="end" class="c">Vb 5.1</text><rect x="104.56" y="238.94" width="3.5" height="7.26" fill="#b8b8b8" stroke="#9a9a9a" stroke-width="0.4"/><line x1="106.31" y1="238.94" x2="106.31" y2="242.09" stroke="#8a8a8a" stroke-width="0.8"/><line x1="106.31" y1="236.34" x2="106.31" y2="238.94" stroke="#404040" stroke-width="0.8"/><line x1="105.01" y1="236.34" x2="107.61" y2="236.34" stroke="#404040" stroke-width="0.9"/><rect x="104.91" y="242.44" width="2.8" height="3.41" fill="#fff" stroke="#6a6a6a" stroke-width="0.7"/><rect x="108.26" y="239.57" width="2.9" height="6.63" fill="#1c1c1c"/><text transform="translate(111.26,250.2) rotate(-90)" text-anchor="end" class="c">Vb 5.2</text><rect x="113.23" y="238.31" width="3.5" height="7.89" fill="#b8b8b8" stroke="#9a9a9a" stroke-width="0.4"/><line x1="114.98" y1="238.31" x2="114.98" y2="240.83" stroke="#8a8a8a" stroke-width="0.8"/><line x1="114.98" y1="236.34" x2="114.98" y2="238.31" stroke="#404040" stroke-width="0.8"/><line x1="113.68" y1="236.34" x2="116.28" y2="236.34" stroke="#404040" stroke-width="0.9"/><rect x="113.58" y="241.18" width="2.8" height="4.67" fill="#fff" stroke="#6a6a6a" stroke-width="0.7"/><rect x="116.93" y="240.69" width="2.9" height="5.51" fill="#1c1c1c"/><text transform="translate(119.93,250.2) rotate(-90)" text-anchor="end" class="c">Vb 5.3</text><rect x="121.9" y="233.54" width="3.5" height="12.66" fill="#b8b8b8" stroke="#9a9a9a" stroke-width="0.4"/><line x1="123.65" y1="233.54" x2="123.65" y2="237.04" stroke="#8a8a8a" stroke-width="0.8"/><line x1="123.65" y1="229.68" x2="123.65" y2="233.54" stroke="#404040" stroke-width="0.8"/><line x1="122.35" y1="229.68" x2="124.95" y2="229.68" stroke="#404040" stroke-width="0.9"/><rect x="122.25" y="237.39" width="2.8" height="8.46" fill="#fff" stroke="#6a6a6a" stroke-width="0.7"/><rect x="125.6" y="234.1" width="2.9" height="12.1" fill="#1c1c1c"/><text transform="translate(128.6,250.2) rotate(-90)" text-anchor="end" class="c">Vb 7.1</text><rect x="130.58" y="238.94" width="3.5" height="7.26" fill="#b8b8b8" stroke="#9a9a9a" stroke-width="0.4"/><line x1="132.33" y1="238.94" x2="132.33" y2="239.57" stroke="#8a8a8a" stroke-width="0.8"/><line x1="132.33" y1="231.85" x2="132.33" y2="238.94" stroke="#404040" stroke-width="0.8"/><line x1="131.03" y1="231.85" x2="133.63" y2="231.85" stroke="#404040" stroke-width="0.9"/><rect x="130.93" y="239.92" width="2.8" height="5.93" fill="#fff" stroke="#6a6a6a" stroke-width="0.7"/><rect x="134.28" y="244.83" width="2.9" height="1.37" fill="#1c1c1c"/><text transform="translate(137.28,250.2) rotate(-90)" text-anchor="end" class="c">Vb 7.2</text><rect x="139.25" y="214.32" width="3.5" height="31.88" fill="#b8b8b8" stroke="#9a9a9a" stroke-width="0.4"/><line x1="141" y1="214.32" x2="141" y2="223.5" stroke="#8a8a8a" stroke-width="0.8"/><line x1="141" y1="202.74" x2="141" y2="214.32" stroke="#404040" stroke-width="0.8"/><line x1="139.7" y1="202.74" x2="142.3" y2="202.74" stroke="#404040" stroke-width="0.9"/><rect x="139.6" y="223.85" width="2.8" height="21.99" fill="#fff" stroke="#6a6a6a" stroke-width="0.7"/><rect x="142.95" y="213.47" width="2.9" height="32.73" fill="#1c1c1c"/><text transform="translate(145.95,250.2) rotate(-90)" text-anchor="end" class="c">Vb 8</text><rect x="147.92" y="220.7" width="3.5" height="25.5" fill="#b8b8b8" stroke="#9a9a9a" stroke-width="0.4"/><line x1="149.67" y1="220.7" x2="149.67" y2="232.2" stroke="#8a8a8a" stroke-width="0.8"/><line x1="149.67" y1="213.26" x2="149.67" y2="220.7" stroke="#404040" stroke-width="0.8"/><line x1="148.37" y1="213.26" x2="150.97" y2="213.26" stroke="#404040" stroke-width="0.9"/><rect x="148.27" y="232.55" width="2.8" height="13.3" fill="#fff" stroke="#6a6a6a" stroke-width="0.7"/><rect x="151.62" y="220.7" width="2.9" height="25.5" fill="#1c1c1c"/><text transform="translate(154.62,250.2) rotate(-90)" text-anchor="end" class="c">Vb 9</text><rect x="156.59" y="239.92" width="3.5" height="6.28" fill="#b8b8b8" stroke="#9a9a9a" stroke-width="0.4"/><line x1="158.34" y1="239.92" x2="158.34" y2="242.79" stroke="#8a8a8a" stroke-width="0.8"/><line x1="158.34" y1="232.2" x2="158.34" y2="239.92" stroke="#404040" stroke-width="0.8"/><line x1="157.04" y1="232.2" x2="159.64" y2="232.2" stroke="#404040" stroke-width="0.9"/><rect x="156.94" y="243.14" width="2.8" height="2.71" fill="#fff" stroke="#6a6a6a" stroke-width="0.7"/><rect x="160.29" y="240.13" width="2.9" height="6.07" fill="#1c1c1c"/><text transform="translate(163.29,250.2) rotate(-90)" text-anchor="end" class="c">Vb 11</text><rect x="165.26" y="232.97" width="3.5" height="13.23" fill="#b8b8b8" stroke="#9a9a9a" stroke-width="0.4"/><line x1="167.01" y1="232.97" x2="167.01" y2="237.88" stroke="#8a8a8a" stroke-width="0.8"/><line x1="167.01" y1="228.41" x2="167.01" y2="232.97" stroke="#404040" stroke-width="0.8"/><line x1="165.71" y1="228.41" x2="168.31" y2="228.41" stroke="#404040" stroke-width="0.9"/><rect x="165.61" y="238.23" width="2.8" height="7.62" fill="#fff" stroke="#6a6a6a" stroke-width="0.7"/><rect x="168.96" y="228.41" width="2.9" height="17.79" fill="#1c1c1c"/><text transform="translate(171.96,250.2) rotate(-90)" text-anchor="end" class="c">Vb 12</text><rect x="173.94" y="219.02" width="3.5" height="27.18" fill="#b8b8b8" stroke="#9a9a9a" stroke-width="0.4"/><line x1="175.69" y1="219.02" x2="175.69" y2="228.7" stroke="#8a8a8a" stroke-width="0.8"/><line x1="175.69" y1="205.55" x2="175.69" y2="219.02" stroke="#404040" stroke-width="0.8"/><line x1="174.39" y1="205.55" x2="176.99" y2="205.55" stroke="#404040" stroke-width="0.9"/><rect x="174.29" y="229.05" width="2.8" height="16.8" fill="#fff" stroke="#6a6a6a" stroke-width="0.7"/><rect x="177.64" y="221.19" width="2.9" height="25.01" fill="#1c1c1c"/><text transform="translate(180.64,250.2) rotate(-90)" text-anchor="end" class="c">Vb 13.1</text><rect x="182.61" y="228.7" width="3.5" height="17.5" fill="#b8b8b8" stroke="#9a9a9a" stroke-width="0.4"/><line x1="184.36" y1="228.7" x2="184.36" y2="239.57" stroke="#8a8a8a" stroke-width="0.8"/><line x1="184.36" y1="218.45" x2="184.36" y2="228.7" stroke="#404040" stroke-width="0.8"/><line x1="183.06" y1="218.45" x2="185.66" y2="218.45" stroke="#404040" stroke-width="0.9"/><rect x="182.96" y="239.92" width="2.8" height="5.93" fill="#fff" stroke="#6a6a6a" stroke-width="0.7"/><rect x="186.31" y="238.09" width="2.9" height="8.11" fill="#1c1c1c"/><text transform="translate(189.31,250.2) rotate(-90)" text-anchor="end" class="c">Vb 13.2</text><rect x="191.28" y="232.48" width="3.5" height="13.72" fill="#b8b8b8" stroke="#9a9a9a" stroke-width="0.4"/><line x1="193.03" y1="232.48" x2="193.03" y2="235.71" stroke="#8a8a8a" stroke-width="0.8"/><line x1="193.03" y1="228.06" x2="193.03" y2="232.48" stroke="#404040" stroke-width="0.8"/><line x1="191.73" y1="228.06" x2="194.33" y2="228.06" stroke="#404040" stroke-width="0.9"/><rect x="191.63" y="236.06" width="2.8" height="9.79" fill="#fff" stroke="#6a6a6a" stroke-width="0.7"/><rect x="194.98" y="234.52" width="2.9" height="11.68" fill="#1c1c1c"/><text transform="translate(197.98,250.2) rotate(-90)" text-anchor="end" class="c">Vb 13.6</text><rect x="199.95" y="226.73" width="3.5" height="19.47" fill="#b8b8b8" stroke="#9a9a9a" stroke-width="0.4"/><line x1="201.7" y1="226.73" x2="201.7" y2="233.18" stroke="#8a8a8a" stroke-width="0.8"/><line x1="201.7" y1="221.54" x2="201.7" y2="226.73" stroke="#404040" stroke-width="0.8"/><line x1="200.4" y1="221.54" x2="203" y2="221.54" stroke="#404040" stroke-width="0.9"/><rect x="200.3" y="233.53" width="2.8" height="12.32" fill="#fff" stroke="#6a6a6a" stroke-width="0.7"/><rect x="203.65" y="230.73" width="2.9" height="15.47" fill="#1c1c1c"/><text transform="translate(206.65,250.2) rotate(-90)" text-anchor="end" class="c">Vb 14</text><rect x="208.62" y="237.95" width="3.5" height="8.25" fill="#b8b8b8" stroke="#9a9a9a" stroke-width="0.4"/><line x1="210.37" y1="237.95" x2="210.37" y2="237.95" stroke="#8a8a8a" stroke-width="0.8"/><line x1="210.37" y1="217.33" x2="210.37" y2="237.95" stroke="#404040" stroke-width="0.8"/><line x1="209.07" y1="217.33" x2="211.67" y2="217.33" stroke="#404040" stroke-width="0.9"/><rect x="208.97" y="238.3" width="2.8" height="7.55" fill="#fff" stroke="#6a6a6a" stroke-width="0.7"/><rect x="212.32" y="237.39" width="2.9" height="8.81" fill="#1c1c1c"/><text transform="translate(215.32,250.2) rotate(-90)" text-anchor="end" class="c">Vb 16</text><rect x="217.3" y="207.02" width="3.5" height="39.18" fill="#b8b8b8" stroke="#9a9a9a" stroke-width="0.4"/><line x1="219.05" y1="207.02" x2="219.05" y2="212.63" stroke="#8a8a8a" stroke-width="0.8"/><line x1="219.05" y1="185.49" x2="219.05" y2="207.02" stroke="#404040" stroke-width="0.8"/><line x1="217.75" y1="185.49" x2="220.35" y2="185.49" stroke="#404040" stroke-width="0.9"/><rect x="217.65" y="212.98" width="2.8" height="32.87" fill="#fff" stroke="#6a6a6a" stroke-width="0.7"/><rect x="221" y="220.28" width="2.9" height="25.92" fill="#1c1c1c"/><text transform="translate(224,250.2) rotate(-90)" text-anchor="end" class="c">Vb 17</text><rect x="225.97" y="233.61" width="3.5" height="12.59" fill="#b8b8b8" stroke="#9a9a9a" stroke-width="0.4"/><line x1="227.72" y1="233.61" x2="227.72" y2="240.13" stroke="#8a8a8a" stroke-width="0.8"/><line x1="227.72" y1="226.45" x2="227.72" y2="233.61" stroke="#404040" stroke-width="0.8"/><line x1="226.42" y1="226.45" x2="229.02" y2="226.45" stroke="#404040" stroke-width="0.9"/><rect x="226.32" y="240.48" width="2.8" height="5.37" fill="#fff" stroke="#6a6a6a" stroke-width="0.7"/><rect x="229.67" y="232.06" width="2.9" height="14.14" fill="#1c1c1c"/><text transform="translate(232.67,250.2) rotate(-90)" text-anchor="end" class="c">Vb 18</text><rect x="234.64" y="232.48" width="3.5" height="13.72" fill="#b8b8b8" stroke="#9a9a9a" stroke-width="0.4"/><line x1="236.39" y1="232.48" x2="236.39" y2="240.13" stroke="#8a8a8a" stroke-width="0.8"/><line x1="236.39" y1="221.26" x2="236.39" y2="232.48" stroke="#404040" stroke-width="0.8"/><line x1="235.09" y1="221.26" x2="237.69" y2="221.26" stroke="#404040" stroke-width="0.9"/><rect x="234.99" y="240.48" width="2.8" height="5.37" fill="#fff" stroke="#6a6a6a" stroke-width="0.7"/><rect x="238.34" y="230.8" width="2.9" height="15.4" fill="#1c1c1c"/><text transform="translate(241.34,250.2) rotate(-90)" text-anchor="end" class="c">Vb 20</text><rect x="243.31" y="230.87" width="3.5" height="15.33" fill="#b8b8b8" stroke="#9a9a9a" stroke-width="0.4"/><line x1="245.06" y1="230.87" x2="245.06" y2="234.24" stroke="#8a8a8a" stroke-width="0.8"/><line x1="245.06" y1="227.15" x2="245.06" y2="230.87" stroke="#404040" stroke-width="0.8"/><line x1="243.76" y1="227.15" x2="246.36" y2="227.15" stroke="#404040" stroke-width="0.9"/><rect x="243.66" y="234.59" width="2.8" height="11.26" fill="#fff" stroke="#6a6a6a" stroke-width="0.7"/><rect x="247.01" y="229.12" width="2.9" height="17.08" fill="#1c1c1c"/><text transform="translate(250.01,250.2) rotate(-90)" text-anchor="end" class="c">Vb 21.3</text><rect x="251.98" y="219.51" width="3.5" height="26.69" fill="#b8b8b8" stroke="#9a9a9a" stroke-width="0.4"/><line x1="253.73" y1="219.51" x2="253.73" y2="224.28" stroke="#8a8a8a" stroke-width="0.8"/><line x1="253.73" y1="205.06" x2="253.73" y2="219.51" stroke="#404040" stroke-width="0.8"/><line x1="252.43" y1="205.06" x2="255.03" y2="205.06" stroke="#404040" stroke-width="0.9"/><rect x="252.33" y="224.63" width="2.8" height="21.22" fill="#fff" stroke="#6a6a6a" stroke-width="0.7"/><rect x="255.68" y="221.47" width="2.9" height="24.73" fill="#1c1c1c"/><text transform="translate(258.68,250.2) rotate(-90)" text-anchor="end" class="c">Vb 22</text><rect x="260.66" y="241.18" width="3.5" height="5.02" fill="#b8b8b8" stroke="#9a9a9a" stroke-width="0.4"/><line x1="262.41" y1="241.18" x2="262.41" y2="241.18" stroke="#8a8a8a" stroke-width="0.8"/><line x1="262.41" y1="239.99" x2="262.41" y2="241.18" stroke="#404040" stroke-width="0.8"/><line x1="261.11" y1="239.99" x2="263.71" y2="239.99" stroke="#404040" stroke-width="0.9"/><rect x="261.01" y="241.53" width="2.8" height="4.32" fill="#fff" stroke="#6a6a6a" stroke-width="0.7"/><rect x="264.36" y="242.02" width="2.9" height="4.18" fill="#1c1c1c"/><text transform="translate(267.36,250.2) rotate(-90)" text-anchor="end" class="c">Vb 23</text><line x1="60.8" y1="246.2" x2="268.2" y2="246.2" stroke="#d0d0d0" stroke-width="1"/><text x="232.2" y="168.2" class="p">p #3</text></g><g><line x1="308.4" y1="147.4" x2="516" y2="147.4" stroke="#d6d6d6" stroke-width="1.2"/><line x1="516" y1="147.4" x2="516" y2="245.4" stroke="#d6d6d6" stroke-width="1.2"/><line x1="308.4" y1="147.4" x2="308.4" y2="246" stroke="#cacaca" stroke-width="1.4"/><line x1="305.4" y1="245.4" x2="308.4" y2="245.4" stroke="#cacaca" stroke-width="1"/><text x="301.8" y="248.7" text-anchor="end" class="t">0,0</text><line x1="305.4" y1="231.4" x2="308.4" y2="231.4" stroke="#cacaca" stroke-width="1"/><text x="301.8" y="234.7" text-anchor="end" class="t">2,0</text><line x1="305.4" y1="217.4" x2="308.4" y2="217.4" stroke="#cacaca" stroke-width="1"/><text x="301.8" y="220.7" text-anchor="end" class="t">4,0</text><line x1="305.4" y1="203.4" x2="308.4" y2="203.4" stroke="#cacaca" stroke-width="1"/><text x="301.8" y="206.7" text-anchor="end" class="t">6,0</text><line x1="305.4" y1="189.4" x2="308.4" y2="189.4" stroke="#cacaca" stroke-width="1"/><text x="301.8" y="192.7" text-anchor="end" class="t">8,0</text><line x1="305.4" y1="175.4" x2="308.4" y2="175.4" stroke="#cacaca" stroke-width="1"/><text x="301.8" y="178.7" text-anchor="end" class="t">10,0</text><line x1="305.4" y1="161.4" x2="308.4" y2="161.4" stroke="#cacaca" stroke-width="1"/><text x="301.8" y="164.7" text-anchor="end" class="t">12,0</text><line x1="305.4" y1="147.4" x2="308.4" y2="147.4" stroke="#cacaca" stroke-width="1"/><text x="301.8" y="150.7" text-anchor="end" class="t">14,0</text><rect x="309.3" y="221.39" width="3.5" height="24.61" fill="#b8b8b8" stroke="#9a9a9a" stroke-width="0.4"/><line x1="311.05" y1="221.39" x2="311.05" y2="236.16" stroke="#8a8a8a" stroke-width="0.8"/><line x1="311.05" y1="214.18" x2="311.05" y2="221.39" stroke="#404040" stroke-width="0.8"/><line x1="309.75" y1="214.18" x2="312.35" y2="214.18" stroke="#404040" stroke-width="0.9"/><rect x="309.65" y="236.51" width="2.8" height="9.14" fill="#fff" stroke="#6a6a6a" stroke-width="0.7"/><rect x="313" y="220.2" width="2.9" height="25.8" fill="#1c1c1c"/><text transform="translate(316,250) rotate(-90)" text-anchor="end" class="c">Vb 1</text><rect x="317.96" y="178.9" width="3.5" height="67.1" fill="#b8b8b8" stroke="#9a9a9a" stroke-width="0.4"/><line x1="319.71" y1="178.9" x2="319.71" y2="199.69" stroke="#8a8a8a" stroke-width="0.8"/><line x1="319.71" y1="165.6" x2="319.71" y2="178.9" stroke="#404040" stroke-width="0.8"/><line x1="318.41" y1="165.6" x2="321.01" y2="165.6" stroke="#404040" stroke-width="0.9"/><rect x="318.31" y="200.04" width="2.8" height="45.61" fill="#fff" stroke="#6a6a6a" stroke-width="0.7"/><rect x="321.66" y="191.92" width="2.9" height="54.08" fill="#1c1c1c"/><text transform="translate(324.66,250) rotate(-90)" text-anchor="end" class="c">Vb 2</text><rect x="326.61" y="208.09" width="3.5" height="37.91" fill="#b8b8b8" stroke="#9a9a9a" stroke-width="0.4"/><line x1="328.36" y1="208.09" x2="328.36" y2="234.69" stroke="#8a8a8a" stroke-width="0.8"/><line x1="328.36" y1="188.84" x2="328.36" y2="208.09" stroke="#404040" stroke-width="0.8"/><line x1="327.06" y1="188.84" x2="329.66" y2="188.84" stroke="#404040" stroke-width="0.9"/><rect x="326.96" y="235.04" width="2.8" height="10.61" fill="#fff" stroke="#6a6a6a" stroke-width="0.7"/><rect x="330.31" y="212.29" width="2.9" height="33.71" fill="#1c1c1c"/><text transform="translate(333.31,250) rotate(-90)" text-anchor="end" class="c">Vb 3</text><rect x="335.27" y="229.51" width="3.5" height="16.49" fill="#b8b8b8" stroke="#9a9a9a" stroke-width="0.4"/><line x1="337.02" y1="229.51" x2="337.02" y2="237.7" stroke="#8a8a8a" stroke-width="0.8"/><line x1="337.02" y1="227.55" x2="337.02" y2="229.51" stroke="#404040" stroke-width="0.8"/><line x1="335.72" y1="227.55" x2="338.32" y2="227.55" stroke="#404040" stroke-width="0.9"/><rect x="335.62" y="238.05" width="2.8" height="7.6" fill="#fff" stroke="#6a6a6a" stroke-width="0.7"/><rect x="338.97" y="239.17" width="2.9" height="6.83" fill="#1c1c1c"/><text transform="translate(341.97,250) rotate(-90)" text-anchor="end" class="c">Vb 4</text><rect x="343.92" y="203.61" width="3.5" height="42.39" fill="#b8b8b8" stroke="#9a9a9a" stroke-width="0.4"/><line x1="345.67" y1="203.61" x2="345.67" y2="218.31" stroke="#8a8a8a" stroke-width="0.8"/><line x1="345.67" y1="190.52" x2="345.67" y2="203.61" stroke="#404040" stroke-width="0.8"/><line x1="344.37" y1="190.52" x2="346.97" y2="190.52" stroke="#404040" stroke-width="0.9"/><rect x="344.27" y="218.66" width="2.8" height="26.99" fill="#fff" stroke="#6a6a6a" stroke-width="0.7"/><rect x="347.62" y="192.55" width="2.9" height="53.45" fill="#1c1c1c"/><text transform="translate(350.62,250) rotate(-90)" text-anchor="end" class="c">Vb 5.1</text><rect x="352.58" y="238.75" width="3.5" height="7.25" fill="#b8b8b8" stroke="#9a9a9a" stroke-width="0.4"/><line x1="354.33" y1="238.75" x2="354.33" y2="241.9" stroke="#8a8a8a" stroke-width="0.8"/><line x1="354.33" y1="236.16" x2="354.33" y2="238.75" stroke="#404040" stroke-width="0.8"/><line x1="353.03" y1="236.16" x2="355.63" y2="236.16" stroke="#404040" stroke-width="0.9"/><rect x="352.93" y="242.25" width="2.8" height="3.4" fill="#fff" stroke="#6a6a6a" stroke-width="0.7"/><rect x="356.28" y="238.47" width="2.9" height="7.53" fill="#1c1c1c"/><text transform="translate(359.28,250) rotate(-90)" text-anchor="end" class="c">Vb 5.2</text><rect x="361.24" y="238.12" width="3.5" height="7.88" fill="#b8b8b8" stroke="#9a9a9a" stroke-width="0.4"/><line x1="362.99" y1="238.12" x2="362.99" y2="240.64" stroke="#8a8a8a" stroke-width="0.8"/><line x1="362.99" y1="236.16" x2="362.99" y2="238.12" stroke="#404040" stroke-width="0.8"/><line x1="361.69" y1="236.16" x2="364.29" y2="236.16" stroke="#404040" stroke-width="0.9"/><rect x="361.59" y="240.99" width="2.8" height="4.66" fill="#fff" stroke="#6a6a6a" stroke-width="0.7"/><rect x="364.94" y="240.22" width="2.9" height="5.78" fill="#1c1c1c"/><text transform="translate(367.94,250) rotate(-90)" text-anchor="end" class="c">Vb 5.3</text><rect x="369.89" y="233.36" width="3.5" height="12.64" fill="#b8b8b8" stroke="#9a9a9a" stroke-width="0.4"/><line x1="371.64" y1="233.36" x2="371.64" y2="236.86" stroke="#8a8a8a" stroke-width="0.8"/><line x1="371.64" y1="229.51" x2="371.64" y2="233.36" stroke="#404040" stroke-width="0.8"/><line x1="370.34" y1="229.51" x2="372.94" y2="229.51" stroke="#404040" stroke-width="0.9"/><rect x="370.24" y="237.21" width="2.8" height="8.44" fill="#fff" stroke="#6a6a6a" stroke-width="0.7"/><rect x="373.59" y="232.52" width="2.9" height="13.48" fill="#1c1c1c"/><text transform="translate(376.59,250) rotate(-90)" text-anchor="end" class="c">Vb 7.1</text><rect x="378.55" y="238.75" width="3.5" height="7.25" fill="#b8b8b8" stroke="#9a9a9a" stroke-width="0.4"/><line x1="380.3" y1="238.75" x2="380.3" y2="239.38" stroke="#8a8a8a" stroke-width="0.8"/><line x1="380.3" y1="231.68" x2="380.3" y2="238.75" stroke="#404040" stroke-width="0.8"/><line x1="379" y1="231.68" x2="381.6" y2="231.68" stroke="#404040" stroke-width="0.9"/><rect x="378.9" y="239.73" width="2.8" height="5.92" fill="#fff" stroke="#6a6a6a" stroke-width="0.7"/><rect x="382.25" y="244.77" width="2.9" height="1.23" fill="#1c1c1c"/><text transform="translate(385.25,250) rotate(-90)" text-anchor="end" class="c">Vb 7.2</text><rect x="387.2" y="214.18" width="3.5" height="31.82" fill="#b8b8b8" stroke="#9a9a9a" stroke-width="0.4"/><line x1="388.95" y1="214.18" x2="388.95" y2="223.35" stroke="#8a8a8a" stroke-width="0.8"/><line x1="388.95" y1="202.63" x2="388.95" y2="214.18" stroke="#404040" stroke-width="0.8"/><line x1="387.65" y1="202.63" x2="390.25" y2="202.63" stroke="#404040" stroke-width="0.9"/><rect x="387.55" y="223.7" width="2.8" height="21.95" fill="#fff" stroke="#6a6a6a" stroke-width="0.7"/><rect x="390.9" y="206.13" width="2.9" height="39.87" fill="#1c1c1c"/><text transform="translate(393.9,250) rotate(-90)" text-anchor="end" class="c">Vb 8</text><rect x="395.86" y="220.55" width="3.5" height="25.45" fill="#b8b8b8" stroke="#9a9a9a" stroke-width="0.4"/><line x1="397.61" y1="220.55" x2="397.61" y2="232.03" stroke="#8a8a8a" stroke-width="0.8"/><line x1="397.61" y1="213.13" x2="397.61" y2="220.55" stroke="#404040" stroke-width="0.8"/><line x1="396.31" y1="213.13" x2="398.91" y2="213.13" stroke="#404040" stroke-width="0.9"/><rect x="396.21" y="232.38" width="2.8" height="13.27" fill="#fff" stroke="#6a6a6a" stroke-width="0.7"/><rect x="399.56" y="222.72" width="2.9" height="23.28" fill="#1c1c1c"/><text transform="translate(402.56,250) rotate(-90)" text-anchor="end" class="c">Vb 9</text><rect x="404.52" y="239.73" width="3.5" height="6.27" fill="#b8b8b8" stroke="#9a9a9a" stroke-width="0.4"/><line x1="406.27" y1="239.73" x2="406.27" y2="242.6" stroke="#8a8a8a" stroke-width="0.8"/><line x1="406.27" y1="232.03" x2="406.27" y2="239.73" stroke="#404040" stroke-width="0.8"/><line x1="404.97" y1="232.03" x2="407.57" y2="232.03" stroke="#404040" stroke-width="0.9"/><rect x="404.87" y="242.95" width="2.8" height="2.7" fill="#fff" stroke="#6a6a6a" stroke-width="0.7"/><rect x="408.22" y="240.22" width="2.9" height="5.78" fill="#1c1c1c"/><text transform="translate(411.22,250) rotate(-90)" text-anchor="end" class="c">Vb 11</text><rect x="413.17" y="232.8" width="3.5" height="13.2" fill="#b8b8b8" stroke="#9a9a9a" stroke-width="0.4"/><line x1="414.92" y1="232.8" x2="414.92" y2="237.7" stroke="#8a8a8a" stroke-width="0.8"/><line x1="414.92" y1="228.25" x2="414.92" y2="232.8" stroke="#404040" stroke-width="0.8"/><line x1="413.62" y1="228.25" x2="416.22" y2="228.25" stroke="#404040" stroke-width="0.9"/><rect x="413.52" y="238.05" width="2.8" height="7.6" fill="#fff" stroke="#6a6a6a" stroke-width="0.7"/><rect x="416.87" y="229.23" width="2.9" height="16.77" fill="#1c1c1c"/><text transform="translate(419.87,250) rotate(-90)" text-anchor="end" class="c">Vb 12</text><rect x="421.83" y="218.87" width="3.5" height="27.13" fill="#b8b8b8" stroke="#9a9a9a" stroke-width="0.4"/><line x1="423.58" y1="218.87" x2="423.58" y2="228.53" stroke="#8a8a8a" stroke-width="0.8"/><line x1="423.58" y1="205.43" x2="423.58" y2="218.87" stroke="#404040" stroke-width="0.8"/><line x1="422.28" y1="205.43" x2="424.88" y2="205.43" stroke="#404040" stroke-width="0.9"/><rect x="422.18" y="228.88" width="2.8" height="16.77" fill="#fff" stroke="#6a6a6a" stroke-width="0.7"/><rect x="425.53" y="212.99" width="2.9" height="33.01" fill="#1c1c1c"/><text transform="translate(428.53,250) rotate(-90)" text-anchor="end" class="c">Vb 13.1</text><rect x="430.48" y="228.53" width="3.5" height="17.47" fill="#b8b8b8" stroke="#9a9a9a" stroke-width="0.4"/><line x1="432.23" y1="228.53" x2="432.23" y2="239.38" stroke="#8a8a8a" stroke-width="0.8"/><line x1="432.23" y1="218.31" x2="432.23" y2="228.53" stroke="#404040" stroke-width="0.8"/><line x1="430.93" y1="218.31" x2="433.53" y2="218.31" stroke="#404040" stroke-width="0.9"/><rect x="430.83" y="239.73" width="2.8" height="5.92" fill="#fff" stroke="#6a6a6a" stroke-width="0.7"/><rect x="434.18" y="236.79" width="2.9" height="9.21" fill="#1c1c1c"/><text transform="translate(437.18,250) rotate(-90)" text-anchor="end" class="c">Vb 13.2</text><rect x="439.14" y="232.31" width="3.5" height="13.69" fill="#b8b8b8" stroke="#9a9a9a" stroke-width="0.4"/><line x1="440.89" y1="232.31" x2="440.89" y2="235.53" stroke="#8a8a8a" stroke-width="0.8"/><line x1="440.89" y1="227.9" x2="440.89" y2="232.31" stroke="#404040" stroke-width="0.8"/><line x1="439.59" y1="227.9" x2="442.19" y2="227.9" stroke="#404040" stroke-width="0.9"/><rect x="439.49" y="235.88" width="2.8" height="9.77" fill="#fff" stroke="#6a6a6a" stroke-width="0.7"/><rect x="442.84" y="229.93" width="2.9" height="16.07" fill="#1c1c1c"/><text transform="translate(445.84,250) rotate(-90)" text-anchor="end" class="c">Vb 13.6</text><rect x="447.8" y="226.57" width="3.5" height="19.43" fill="#b8b8b8" stroke="#9a9a9a" stroke-width="0.4"/><line x1="449.55" y1="226.57" x2="449.55" y2="233.01" stroke="#8a8a8a" stroke-width="0.8"/><line x1="449.55" y1="221.39" x2="449.55" y2="226.57" stroke="#404040" stroke-width="0.8"/><line x1="448.25" y1="221.39" x2="450.85" y2="221.39" stroke="#404040" stroke-width="0.9"/><rect x="448.15" y="233.36" width="2.8" height="12.29" fill="#fff" stroke="#6a6a6a" stroke-width="0.7"/><rect x="451.5" y="224.75" width="2.9" height="21.25" fill="#1c1c1c"/><text transform="translate(454.5,250) rotate(-90)" text-anchor="end" class="c">Vb 14</text><rect x="456.45" y="237.77" width="3.5" height="8.23" fill="#b8b8b8" stroke="#9a9a9a" stroke-width="0.4"/><line x1="458.2" y1="237.77" x2="458.2" y2="237.77" stroke="#8a8a8a" stroke-width="0.8"/><line x1="458.2" y1="217.19" x2="458.2" y2="237.77" stroke="#404040" stroke-width="0.8"/><line x1="456.9" y1="217.19" x2="459.5" y2="217.19" stroke="#404040" stroke-width="0.9"/><rect x="456.8" y="238.12" width="2.8" height="7.53" fill="#fff" stroke="#6a6a6a" stroke-width="0.7"/><rect x="460.15" y="237.91" width="2.9" height="8.09" fill="#1c1c1c"/><text transform="translate(463.15,250) rotate(-90)" text-anchor="end" class="c">Vb 16</text><rect x="465.11" y="206.9" width="3.5" height="39.1" fill="#b8b8b8" stroke="#9a9a9a" stroke-width="0.4"/><line x1="466.86" y1="206.9" x2="466.86" y2="212.5" stroke="#8a8a8a" stroke-width="0.8"/><line x1="466.86" y1="185.41" x2="466.86" y2="206.9" stroke="#404040" stroke-width="0.8"/><line x1="465.56" y1="185.41" x2="468.16" y2="185.41" stroke="#404040" stroke-width="0.9"/><rect x="465.46" y="212.85" width="2.8" height="32.8" fill="#fff" stroke="#6a6a6a" stroke-width="0.7"/><rect x="468.81" y="202.7" width="2.9" height="43.3" fill="#1c1c1c"/><text transform="translate(471.81,250) rotate(-90)" text-anchor="end" class="c">Vb 17</text><rect x="473.76" y="233.43" width="3.5" height="12.57" fill="#b8b8b8" stroke="#9a9a9a" stroke-width="0.4"/><line x1="475.51" y1="233.43" x2="475.51" y2="239.94" stroke="#8a8a8a" stroke-width="0.8"/><line x1="475.51" y1="226.29" x2="475.51" y2="233.43" stroke="#404040" stroke-width="0.8"/><line x1="474.21" y1="226.29" x2="476.81" y2="226.29" stroke="#404040" stroke-width="0.9"/><rect x="474.11" y="240.29" width="2.8" height="5.36" fill="#fff" stroke="#6a6a6a" stroke-width="0.7"/><rect x="477.46" y="239.87" width="2.9" height="6.13" fill="#1c1c1c"/><text transform="translate(480.46,250) rotate(-90)" text-anchor="end" class="c">Vb 18</text><rect x="482.42" y="232.31" width="3.5" height="13.69" fill="#b8b8b8" stroke="#9a9a9a" stroke-width="0.4"/><line x1="484.17" y1="232.31" x2="484.17" y2="239.94" stroke="#8a8a8a" stroke-width="0.8"/><line x1="484.17" y1="221.11" x2="484.17" y2="232.31" stroke="#404040" stroke-width="0.8"/><line x1="482.87" y1="221.11" x2="485.47" y2="221.11" stroke="#404040" stroke-width="0.9"/><rect x="482.77" y="240.29" width="2.8" height="5.36" fill="#fff" stroke="#6a6a6a" stroke-width="0.7"/><rect x="486.12" y="220.62" width="2.9" height="25.38" fill="#1c1c1c"/><text transform="translate(489.12,250) rotate(-90)" text-anchor="end" class="c">Vb 20</text><rect x="491.08" y="230.7" width="3.5" height="15.3" fill="#b8b8b8" stroke="#9a9a9a" stroke-width="0.4"/><line x1="492.83" y1="230.7" x2="492.83" y2="234.06" stroke="#8a8a8a" stroke-width="0.8"/><line x1="492.83" y1="226.99" x2="492.83" y2="230.7" stroke="#404040" stroke-width="0.8"/><line x1="491.53" y1="226.99" x2="494.13" y2="226.99" stroke="#404040" stroke-width="0.9"/><rect x="491.43" y="234.41" width="2.8" height="11.24" fill="#fff" stroke="#6a6a6a" stroke-width="0.7"/><rect x="494.78" y="227.97" width="2.9" height="18.03" fill="#1c1c1c"/><text transform="translate(497.78,250) rotate(-90)" text-anchor="end" class="c">Vb 21.3</text><rect x="499.73" y="219.36" width="3.5" height="26.64" fill="#b8b8b8" stroke="#9a9a9a" stroke-width="0.4"/><line x1="501.48" y1="219.36" x2="501.48" y2="224.12" stroke="#8a8a8a" stroke-width="0.8"/><line x1="501.48" y1="204.94" x2="501.48" y2="219.36" stroke="#404040" stroke-width="0.8"/><line x1="500.18" y1="204.94" x2="502.78" y2="204.94" stroke="#404040" stroke-width="0.9"/><rect x="500.08" y="224.47" width="2.8" height="21.18" fill="#fff" stroke="#6a6a6a" stroke-width="0.7"/><rect x="503.43" y="210.12" width="2.9" height="35.88" fill="#1c1c1c"/><text transform="translate(506.43,250) rotate(-90)" text-anchor="end" class="c">Vb 22</text><rect x="508.39" y="240.99" width="3.5" height="5.01" fill="#b8b8b8" stroke="#9a9a9a" stroke-width="0.4"/><line x1="510.14" y1="240.99" x2="510.14" y2="240.99" stroke="#8a8a8a" stroke-width="0.8"/><line x1="510.14" y1="239.8" x2="510.14" y2="240.99" stroke="#404040" stroke-width="0.8"/><line x1="508.84" y1="239.8" x2="511.44" y2="239.8" stroke="#404040" stroke-width="0.9"/><rect x="508.74" y="241.34" width="2.8" height="4.31" fill="#fff" stroke="#6a6a6a" stroke-width="0.7"/><rect x="512.09" y="241.13" width="2.9" height="4.87" fill="#1c1c1c"/><text transform="translate(515.09,250) rotate(-90)" text-anchor="end" class="c">Vb 23</text><line x1="308.4" y1="246" x2="516" y2="246" stroke="#d0d0d0" stroke-width="1"/><text x="480" y="168.4" class="p">p #4</text></g><g><line x1="61" y1="287.4" x2="268.4" y2="287.4" stroke="#d6d6d6" stroke-width="1.2"/><line x1="268.4" y1="287.4" x2="268.4" y2="383.4" stroke="#d6d6d6" stroke-width="1.2"/><line x1="61" y1="287.4" x2="61" y2="384" stroke="#cacaca" stroke-width="1.4"/><line x1="58" y1="383.4" x2="61" y2="383.4" stroke="#cacaca" stroke-width="1"/><text x="54.4" y="386.7" text-anchor="end" class="t">0,0</text><line x1="58" y1="369.69" x2="61" y2="369.69" stroke="#cacaca" stroke-width="1"/><text x="54.4" y="372.99" text-anchor="end" class="t">2,0</text><line x1="58" y1="355.97" x2="61" y2="355.97" stroke="#cacaca" stroke-width="1"/><text x="54.4" y="359.27" text-anchor="end" class="t">4,0</text><line x1="58" y1="342.26" x2="61" y2="342.26" stroke="#cacaca" stroke-width="1"/><text x="54.4" y="345.56" text-anchor="end" class="t">6,0</text><line x1="58" y1="328.54" x2="61" y2="328.54" stroke="#cacaca" stroke-width="1"/><text x="54.4" y="331.84" text-anchor="end" class="t">8,0</text><line x1="58" y1="314.83" x2="61" y2="314.83" stroke="#cacaca" stroke-width="1"/><text x="54.4" y="318.13" text-anchor="end" class="t">10,0</text><line x1="58" y1="301.11" x2="61" y2="301.11" stroke="#cacaca" stroke-width="1"/><text x="54.4" y="304.41" text-anchor="end" class="t">12,0</text><line x1="58" y1="287.4" x2="61" y2="287.4" stroke="#cacaca" stroke-width="1"/><text x="54.4" y="290.7" text-anchor="end" class="t">14,0</text><rect x="61.9" y="359.88" width="3.5" height="24.12" fill="#b8b8b8" stroke="#9a9a9a" stroke-width="0.4"/><line x1="63.65" y1="359.88" x2="63.65" y2="374.35" stroke="#8a8a8a" stroke-width="0.8"/><line x1="63.65" y1="352.82" x2="63.65" y2="359.88" stroke="#404040" stroke-width="0.8"/><line x1="62.35" y1="352.82" x2="64.95" y2="352.82" stroke="#404040" stroke-width="0.9"/><rect x="62.25" y="374.7" width="2.8" height="8.95" fill="#fff" stroke="#6a6a6a" stroke-width="0.7"/><rect x="65.6" y="362.83" width="2.9" height="21.17" fill="#1c1c1c"/><text transform="translate(68.6,388) rotate(-90)" text-anchor="end" class="c">Vb 1</text><rect x="70.53" y="318.26" width="3.5" height="65.74" fill="#b8b8b8" stroke="#9a9a9a" stroke-width="0.4"/><line x1="72.28" y1="318.26" x2="72.28" y2="338.62" stroke="#8a8a8a" stroke-width="0.8"/><line x1="72.28" y1="305.23" x2="72.28" y2="318.26" stroke="#404040" stroke-width="0.8"/><line x1="70.98" y1="305.23" x2="73.58" y2="305.23" stroke="#404040" stroke-width="0.9"/><rect x="70.88" y="338.97" width="2.8" height="44.68" fill="#fff" stroke="#6a6a6a" stroke-width="0.7"/><rect x="74.23" y="333.07" width="2.9" height="50.93" fill="#1c1c1c"/><text transform="translate(77.23,388) rotate(-90)" text-anchor="end" class="c">Vb 2</text><rect x="79.17" y="346.85" width="3.5" height="37.15" fill="#b8b8b8" stroke="#9a9a9a" stroke-width="0.4"/><line x1="80.92" y1="346.85" x2="80.92" y2="372.91" stroke="#8a8a8a" stroke-width="0.8"/><line x1="80.92" y1="327.99" x2="80.92" y2="346.85" stroke="#404040" stroke-width="0.8"/><line x1="79.62" y1="327.99" x2="82.22" y2="327.99" stroke="#404040" stroke-width="0.9"/><rect x="79.52" y="373.26" width="2.8" height="10.39" fill="#fff" stroke="#6a6a6a" stroke-width="0.7"/><rect x="82.87" y="335.88" width="2.9" height="48.12" fill="#1c1c1c"/><text transform="translate(85.87,388) rotate(-90)" text-anchor="end" class="c">Vb 3</text><rect x="87.8" y="367.83" width="3.5" height="16.17" fill="#b8b8b8" stroke="#9a9a9a" stroke-width="0.4"/><line x1="89.55" y1="367.83" x2="89.55" y2="375.86" stroke="#8a8a8a" stroke-width="0.8"/><line x1="89.55" y1="365.91" x2="89.55" y2="367.83" stroke="#404040" stroke-width="0.8"/><line x1="88.25" y1="365.91" x2="90.85" y2="365.91" stroke="#404040" stroke-width="0.9"/><rect x="88.15" y="376.21" width="2.8" height="7.44" fill="#fff" stroke="#6a6a6a" stroke-width="0.7"/><rect x="91.5" y="368.86" width="2.9" height="15.14" fill="#1c1c1c"/><text transform="translate(94.5,388) rotate(-90)" text-anchor="end" class="c">Vb 4</text><rect x="96.43" y="342.46" width="3.5" height="41.54" fill="#b8b8b8" stroke="#9a9a9a" stroke-width="0.4"/><line x1="98.18" y1="342.46" x2="98.18" y2="356.86" stroke="#8a8a8a" stroke-width="0.8"/><line x1="98.18" y1="329.64" x2="98.18" y2="342.46" stroke="#404040" stroke-width="0.8"/><line x1="96.88" y1="329.64" x2="99.48" y2="329.64" stroke="#404040" stroke-width="0.9"/><rect x="96.78" y="357.21" width="2.8" height="26.44" fill="#fff" stroke="#6a6a6a" stroke-width="0.7"/><rect x="100.13" y="341.02" width="2.9" height="42.98" fill="#1c1c1c"/><text transform="translate(103.13,388) rotate(-90)" text-anchor="end" class="c">Vb 5.1</text><rect x="105.06" y="376.89" width="3.5" height="7.11" fill="#b8b8b8" stroke="#9a9a9a" stroke-width="0.4"/><line x1="106.81" y1="376.89" x2="106.81" y2="379.97" stroke="#8a8a8a" stroke-width="0.8"/><line x1="106.81" y1="374.35" x2="106.81" y2="376.89" stroke="#404040" stroke-width="0.8"/><line x1="105.52" y1="374.35" x2="108.11" y2="374.35" stroke="#404040" stroke-width="0.9"/><rect x="105.41" y="380.32" width="2.8" height="3.33" fill="#fff" stroke="#6a6a6a" stroke-width="0.7"/><rect x="108.77" y="379.29" width="2.9" height="4.71" fill="#1c1c1c"/><text transform="translate(111.77,388) rotate(-90)" text-anchor="end" class="c">Vb 5.2</text><rect x="113.7" y="376.27" width="3.5" height="7.73" fill="#b8b8b8" stroke="#9a9a9a" stroke-width="0.4"/><line x1="115.45" y1="376.27" x2="115.45" y2="378.74" stroke="#8a8a8a" stroke-width="0.8"/><line x1="115.45" y1="374.35" x2="115.45" y2="376.27" stroke="#404040" stroke-width="0.8"/><line x1="114.15" y1="374.35" x2="116.75" y2="374.35" stroke="#404040" stroke-width="0.9"/><rect x="114.05" y="379.09" width="2.8" height="4.56" fill="#fff" stroke="#6a6a6a" stroke-width="0.7"/><rect x="117.4" y="377.91" width="2.9" height="6.09" fill="#1c1c1c"/><text transform="translate(120.4,388) rotate(-90)" text-anchor="end" class="c">Vb 5.3</text><rect x="122.33" y="371.61" width="3.5" height="12.39" fill="#b8b8b8" stroke="#9a9a9a" stroke-width="0.4"/><line x1="124.08" y1="371.61" x2="124.08" y2="375.03" stroke="#8a8a8a" stroke-width="0.8"/><line x1="124.08" y1="367.83" x2="124.08" y2="371.61" stroke="#404040" stroke-width="0.8"/><line x1="122.78" y1="367.83" x2="125.38" y2="367.83" stroke="#404040" stroke-width="0.9"/><rect x="122.68" y="375.38" width="2.8" height="8.27" fill="#fff" stroke="#6a6a6a" stroke-width="0.7"/><rect x="126.03" y="372.5" width="2.9" height="11.5" fill="#1c1c1c"/><text transform="translate(129.03,388) rotate(-90)" text-anchor="end" class="c">Vb 7.1</text><rect x="130.96" y="376.89" width="3.5" height="7.11" fill="#b8b8b8" stroke="#9a9a9a" stroke-width="0.4"/><line x1="132.71" y1="376.89" x2="132.71" y2="377.5" stroke="#8a8a8a" stroke-width="0.8"/><line x1="132.71" y1="369.96" x2="132.71" y2="376.89" stroke="#404040" stroke-width="0.8"/><line x1="131.41" y1="369.96" x2="134.01" y2="369.96" stroke="#404040" stroke-width="0.9"/><rect x="131.31" y="377.85" width="2.8" height="5.8" fill="#fff" stroke="#6a6a6a" stroke-width="0.7"/><rect x="134.66" y="370.17" width="2.9" height="13.83" fill="#1c1c1c"/><text transform="translate(137.66,388) rotate(-90)" text-anchor="end" class="c">Vb 7.2</text><rect x="139.6" y="352.82" width="3.5" height="31.18" fill="#b8b8b8" stroke="#9a9a9a" stroke-width="0.4"/><line x1="141.35" y1="352.82" x2="141.35" y2="361.8" stroke="#8a8a8a" stroke-width="0.8"/><line x1="141.35" y1="341.5" x2="141.35" y2="352.82" stroke="#404040" stroke-width="0.8"/><line x1="140.05" y1="341.5" x2="142.65" y2="341.5" stroke="#404040" stroke-width="0.9"/><rect x="139.95" y="362.15" width="2.8" height="21.5" fill="#fff" stroke="#6a6a6a" stroke-width="0.7"/><rect x="143.3" y="359.19" width="2.9" height="24.81" fill="#1c1c1c"/><text transform="translate(146.3,388) rotate(-90)" text-anchor="end" class="c">Vb 8</text><rect x="148.23" y="359.06" width="3.5" height="24.94" fill="#b8b8b8" stroke="#9a9a9a" stroke-width="0.4"/><line x1="149.98" y1="359.06" x2="149.98" y2="370.3" stroke="#8a8a8a" stroke-width="0.8"/><line x1="149.98" y1="351.79" x2="149.98" y2="359.06" stroke="#404040" stroke-width="0.8"/><line x1="148.68" y1="351.79" x2="151.28" y2="351.79" stroke="#404040" stroke-width="0.9"/><rect x="148.58" y="370.65" width="2.8" height="13" fill="#fff" stroke="#6a6a6a" stroke-width="0.7"/><rect x="151.93" y="368.73" width="2.9" height="15.27" fill="#1c1c1c"/><text transform="translate(154.93,388) rotate(-90)" text-anchor="end" class="c">Vb 9</text><rect x="156.86" y="377.85" width="3.5" height="6.15" fill="#b8b8b8" stroke="#9a9a9a" stroke-width="0.4"/><line x1="158.61" y1="377.85" x2="158.61" y2="380.66" stroke="#8a8a8a" stroke-width="0.8"/><line x1="158.61" y1="370.3" x2="158.61" y2="377.85" stroke="#404040" stroke-width="0.8"/><line x1="157.31" y1="370.3" x2="159.91" y2="370.3" stroke="#404040" stroke-width="0.9"/><rect x="157.21" y="381.01" width="2.8" height="2.64" fill="#fff" stroke="#6a6a6a" stroke-width="0.7"/><rect x="160.56" y="379.08" width="2.9" height="4.92" fill="#1c1c1c"/><text transform="translate(163.56,388) rotate(-90)" text-anchor="end" class="c">Vb 11</text><rect x="165.5" y="371.06" width="3.5" height="12.94" fill="#b8b8b8" stroke="#9a9a9a" stroke-width="0.4"/><line x1="167.25" y1="371.06" x2="167.25" y2="375.86" stroke="#8a8a8a" stroke-width="0.8"/><line x1="167.25" y1="366.6" x2="167.25" y2="371.06" stroke="#404040" stroke-width="0.8"/><line x1="165.95" y1="366.6" x2="168.55" y2="366.6" stroke="#404040" stroke-width="0.9"/><rect x="165.85" y="376.21" width="2.8" height="7.44" fill="#fff" stroke="#6a6a6a" stroke-width="0.7"/><rect x="169.2" y="365.91" width="2.9" height="18.09" fill="#1c1c1c"/><text transform="translate(172.2,388) rotate(-90)" text-anchor="end" class="c">Vb 12</text><rect x="174.13" y="357.41" width="3.5" height="26.59" fill="#b8b8b8" stroke="#9a9a9a" stroke-width="0.4"/><line x1="175.88" y1="357.41" x2="175.88" y2="366.87" stroke="#8a8a8a" stroke-width="0.8"/><line x1="175.88" y1="344.25" x2="175.88" y2="357.41" stroke="#404040" stroke-width="0.8"/><line x1="174.58" y1="344.25" x2="177.18" y2="344.25" stroke="#404040" stroke-width="0.9"/><rect x="174.48" y="367.22" width="2.8" height="16.43" fill="#fff" stroke="#6a6a6a" stroke-width="0.7"/><rect x="177.83" y="364.41" width="2.9" height="19.59" fill="#1c1c1c"/><text transform="translate(180.83,388) rotate(-90)" text-anchor="end" class="c">Vb 13.1</text><rect x="182.76" y="366.87" width="3.5" height="17.13" fill="#b8b8b8" stroke="#9a9a9a" stroke-width="0.4"/><line x1="184.51" y1="366.87" x2="184.51" y2="377.5" stroke="#8a8a8a" stroke-width="0.8"/><line x1="184.51" y1="356.86" x2="184.51" y2="366.87" stroke="#404040" stroke-width="0.8"/><line x1="183.21" y1="356.86" x2="185.81" y2="356.86" stroke="#404040" stroke-width="0.9"/><rect x="183.11" y="377.85" width="2.8" height="5.8" fill="#fff" stroke="#6a6a6a" stroke-width="0.7"/><rect x="186.46" y="359.19" width="2.9" height="24.81" fill="#1c1c1c"/><text transform="translate(189.46,388) rotate(-90)" text-anchor="end" class="c">Vb 13.2</text><rect x="191.39" y="370.58" width="3.5" height="13.42" fill="#b8b8b8" stroke="#9a9a9a" stroke-width="0.4"/><line x1="193.14" y1="370.58" x2="193.14" y2="373.73" stroke="#8a8a8a" stroke-width="0.8"/><line x1="193.14" y1="366.26" x2="193.14" y2="370.58" stroke="#404040" stroke-width="0.8"/><line x1="191.84" y1="366.26" x2="194.44" y2="366.26" stroke="#404040" stroke-width="0.9"/><rect x="191.74" y="374.08" width="2.8" height="9.57" fill="#fff" stroke="#6a6a6a" stroke-width="0.7"/><rect x="195.09" y="372.98" width="2.9" height="11.02" fill="#1c1c1c"/><text transform="translate(198.09,388) rotate(-90)" text-anchor="end" class="c">Vb 13.6</text><rect x="200.03" y="364.95" width="3.5" height="19.05" fill="#b8b8b8" stroke="#9a9a9a" stroke-width="0.4"/><line x1="201.78" y1="364.95" x2="201.78" y2="371.26" stroke="#8a8a8a" stroke-width="0.8"/><line x1="201.78" y1="359.88" x2="201.78" y2="364.95" stroke="#404040" stroke-width="0.8"/><line x1="200.48" y1="359.88" x2="203.08" y2="359.88" stroke="#404040" stroke-width="0.9"/><rect x="200.38" y="371.61" width="2.8" height="12.04" fill="#fff" stroke="#6a6a6a" stroke-width="0.7"/><rect x="203.73" y="371.06" width="2.9" height="12.94" fill="#1c1c1c"/><text transform="translate(206.73,388) rotate(-90)" text-anchor="end" class="c">Vb 14</text><rect x="208.66" y="375.93" width="3.5" height="8.07" fill="#b8b8b8" stroke="#9a9a9a" stroke-width="0.4"/><line x1="210.41" y1="375.93" x2="210.41" y2="375.93" stroke="#8a8a8a" stroke-width="0.8"/><line x1="210.41" y1="355.77" x2="210.41" y2="375.93" stroke="#404040" stroke-width="0.8"/><line x1="209.11" y1="355.77" x2="211.71" y2="355.77" stroke="#404040" stroke-width="0.9"/><rect x="209.01" y="376.28" width="2.8" height="7.37" fill="#fff" stroke="#6a6a6a" stroke-width="0.7"/><rect x="212.36" y="379.97" width="2.9" height="4.03" fill="#1c1c1c"/><text transform="translate(215.36,388) rotate(-90)" text-anchor="end" class="c">Vb 16</text><rect x="217.29" y="345.69" width="3.5" height="38.31" fill="#b8b8b8" stroke="#9a9a9a" stroke-width="0.4"/><line x1="219.04" y1="345.69" x2="219.04" y2="351.17" stroke="#8a8a8a" stroke-width="0.8"/><line x1="219.04" y1="324.63" x2="219.04" y2="345.69" stroke="#404040" stroke-width="0.8"/><line x1="217.74" y1="324.63" x2="220.34" y2="324.63" stroke="#404040" stroke-width="0.9"/><rect x="217.64" y="351.52" width="2.8" height="32.13" fill="#fff" stroke="#6a6a6a" stroke-width="0.7"/><rect x="220.99" y="355.63" width="2.9" height="28.37" fill="#1c1c1c"/><text transform="translate(223.99,388) rotate(-90)" text-anchor="end" class="c">Vb 17</text><rect x="225.93" y="371.67" width="3.5" height="12.33" fill="#b8b8b8" stroke="#9a9a9a" stroke-width="0.4"/><line x1="227.68" y1="371.67" x2="227.68" y2="378.05" stroke="#8a8a8a" stroke-width="0.8"/><line x1="227.68" y1="364.68" x2="227.68" y2="371.67" stroke="#404040" stroke-width="0.8"/><line x1="226.38" y1="364.68" x2="228.98" y2="364.68" stroke="#404040" stroke-width="0.9"/><rect x="226.28" y="378.4" width="2.8" height="5.25" fill="#fff" stroke="#6a6a6a" stroke-width="0.7"/><rect x="229.63" y="375.93" width="2.9" height="8.07" fill="#1c1c1c"/><text transform="translate(232.63,388) rotate(-90)" text-anchor="end" class="c">Vb 18</text><rect x="234.56" y="370.58" width="3.5" height="13.42" fill="#b8b8b8" stroke="#9a9a9a" stroke-width="0.4"/><line x1="236.31" y1="370.58" x2="236.31" y2="378.05" stroke="#8a8a8a" stroke-width="0.8"/><line x1="236.31" y1="359.61" x2="236.31" y2="370.58" stroke="#404040" stroke-width="0.8"/><line x1="235.01" y1="359.61" x2="237.61" y2="359.61" stroke="#404040" stroke-width="0.9"/><rect x="234.91" y="378.4" width="2.8" height="5.25" fill="#fff" stroke="#6a6a6a" stroke-width="0.7"/><rect x="238.26" y="368.79" width="2.9" height="15.21" fill="#1c1c1c"/><text transform="translate(241.26,388) rotate(-90)" text-anchor="end" class="c">Vb 20</text><rect x="243.19" y="369" width="3.5" height="15" fill="#b8b8b8" stroke="#9a9a9a" stroke-width="0.4"/><line x1="244.94" y1="369" x2="244.94" y2="372.29" stroke="#8a8a8a" stroke-width="0.8"/><line x1="244.94" y1="365.37" x2="244.94" y2="369" stroke="#404040" stroke-width="0.8"/><line x1="243.64" y1="365.37" x2="246.24" y2="365.37" stroke="#404040" stroke-width="0.9"/><rect x="243.54" y="372.64" width="2.8" height="11.01" fill="#fff" stroke="#6a6a6a" stroke-width="0.7"/><rect x="246.89" y="369.69" width="2.9" height="14.31" fill="#1c1c1c"/><text transform="translate(249.89,388) rotate(-90)" text-anchor="end" class="c">Vb 21.3</text><rect x="251.83" y="357.89" width="3.5" height="26.11" fill="#b8b8b8" stroke="#9a9a9a" stroke-width="0.4"/><line x1="253.58" y1="357.89" x2="253.58" y2="362.55" stroke="#8a8a8a" stroke-width="0.8"/><line x1="253.58" y1="343.77" x2="253.58" y2="357.89" stroke="#404040" stroke-width="0.8"/><line x1="252.28" y1="343.77" x2="254.88" y2="343.77" stroke="#404040" stroke-width="0.9"/><rect x="252.18" y="362.9" width="2.8" height="20.75" fill="#fff" stroke="#6a6a6a" stroke-width="0.7"/><rect x="255.53" y="367.63" width="2.9" height="16.37" fill="#1c1c1c"/><text transform="translate(258.53,388) rotate(-90)" text-anchor="end" class="c">Vb 22</text><rect x="260.46" y="379.08" width="3.5" height="4.92" fill="#b8b8b8" stroke="#9a9a9a" stroke-width="0.4"/><line x1="262.21" y1="379.08" x2="262.21" y2="379.08" stroke="#8a8a8a" stroke-width="0.8"/><line x1="262.21" y1="377.91" x2="262.21" y2="379.08" stroke="#404040" stroke-width="0.8"/><line x1="260.91" y1="377.91" x2="263.51" y2="377.91" stroke="#404040" stroke-width="0.9"/><rect x="260.81" y="379.43" width="2.8" height="4.22" fill="#fff" stroke="#6a6a6a" stroke-width="0.7"/><rect x="264.16" y="380.79" width="2.9" height="3.21" fill="#1c1c1c"/><text transform="translate(267.16,388) rotate(-90)" text-anchor="end" class="c">Vb 23</text><line x1="61" y1="384" x2="268.4" y2="384" stroke="#d0d0d0" stroke-width="1"/><text x="232.4" y="308.4" class="p">p #6</text></g>
<text class="ax" transform="translate(13.2,311.6) rotate(-90)">% V&#946; usage in CD4<tspan dy="-6.5" font-size="12px">+</tspan><tspan dy="6.5"> T cells</tspan></text>
<text class="ax" x="241" y="438.2">TCR V&#946; familiy</text>
</svg>
</body></html>
